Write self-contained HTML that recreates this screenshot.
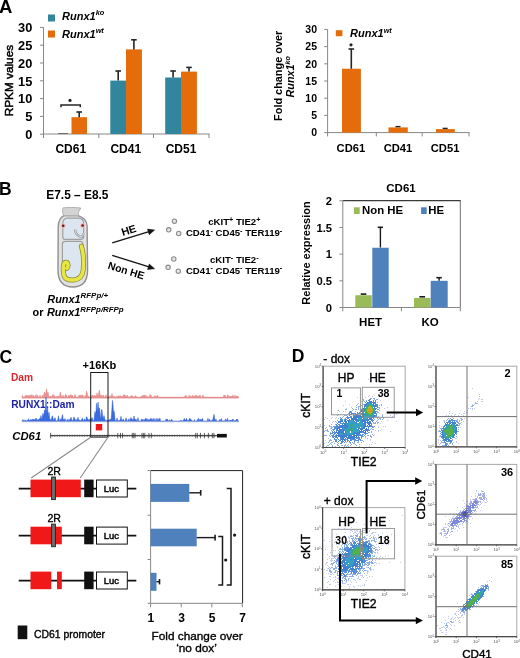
<!DOCTYPE html>
<html><head><meta charset="utf-8"><title>Figure</title>
<style>
html,body{margin:0;padding:0;background:#fff;}
body{width:520px;height:658px;overflow:hidden;}
svg{display:block;font-family:"Liberation Sans",sans-serif;will-change:transform;filter:blur(0.3px);}
</style></head><body>
<svg width="520" height="658" viewBox="0 0 520 658">
<defs><filter id="bl" x="-5%" y="-5%" width="110%" height="110%"><feGaussianBlur stdDeviation="0.45"/></filter></defs>
<rect width="520" height="658" fill="#fff"/>
<text x="-0.9" y="12.9" font-size="18.5" font-weight="bold" >A</text>
<rect x="48" y="14.5" width="7" height="7" fill="#31859c" />
<rect x="48" y="30.5" width="7" height="7" fill="#e46c0a" />
<text x="62" y="19.7" font-weight="bold" font-style="italic" ><tspan font-size="11" >Runx1</tspan><tspan font-size="7.4" dy="-4.5" >ko</tspan></text>
<text x="62" y="37.9" font-weight="bold" font-style="italic" ><tspan font-size="11" >Runx1</tspan><tspan font-size="7.4" dy="-4.5" >wt</tspan></text>
<line x1="43.5" y1="27.4" x2="43.5" y2="134.5" stroke="#888" stroke-width="1" />
<line x1="40" y1="134.2" x2="43.5" y2="134.2" stroke="#888" stroke-width="1" />
<text x="32.3" y="138.9" font-size="12.8" font-weight="bold" text-anchor="end" >0</text>
<line x1="40" y1="116.4" x2="43.5" y2="116.4" stroke="#888" stroke-width="1" />
<text x="32.3" y="121.1" font-size="12.8" font-weight="bold" text-anchor="end" >5</text>
<line x1="40" y1="98.6" x2="43.5" y2="98.6" stroke="#888" stroke-width="1" />
<text x="32.3" y="103.3" font-size="12.8" font-weight="bold" text-anchor="end" >10</text>
<line x1="40" y1="80.8" x2="43.5" y2="80.8" stroke="#888" stroke-width="1" />
<text x="32.3" y="85.5" font-size="12.8" font-weight="bold" text-anchor="end" >15</text>
<line x1="40" y1="63" x2="43.5" y2="63" stroke="#888" stroke-width="1" />
<text x="32.3" y="67.7" font-size="12.8" font-weight="bold" text-anchor="end" >20</text>
<line x1="40" y1="45.2" x2="43.5" y2="45.2" stroke="#888" stroke-width="1" />
<text x="32.3" y="49.9" font-size="12.8" font-weight="bold" text-anchor="end" >25</text>
<line x1="40" y1="27.4" x2="43.5" y2="27.4" stroke="#888" stroke-width="1" />
<text x="32.3" y="32.1" font-size="12.8" font-weight="bold" text-anchor="end" >30</text>
<line x1="43.5" y1="134" x2="209.5" y2="134" stroke="#888" stroke-width="1" />
<line x1="43.5" y1="134" x2="43.5" y2="138" stroke="#888" stroke-width="1" />
<line x1="98.8" y1="134" x2="98.8" y2="138" stroke="#888" stroke-width="1" />
<line x1="153.5" y1="134" x2="153.5" y2="138" stroke="#888" stroke-width="1" />
<line x1="209" y1="134" x2="209" y2="138" stroke="#888" stroke-width="1" />
<text x="12.6" y="80.6" font-size="11.8" stroke="#000" stroke-width="0.5" text-anchor="middle" transform="rotate(-90 12.6 80.6)" >RPKM values</text>
<line x1="58" y1="133.5" x2="68" y2="133.5" stroke="#555" stroke-width="0.8" />
<rect x="71.5" y="117.2" width="15.5" height="16.8" fill="#e46c0a" />
<line x1="79.2" y1="112" x2="79.2" y2="117.2" stroke="#262626" stroke-width="1.6" />
<line x1="76.4" y1="112" x2="82" y2="112" stroke="#262626" stroke-width="1.6" />
<rect x="110.3" y="80.6" width="15.7" height="53.4" fill="#31859c" />
<line x1="118.2" y1="71" x2="118.2" y2="80.6" stroke="#262626" stroke-width="1.6" />
<line x1="115.4" y1="71" x2="121" y2="71" stroke="#262626" stroke-width="1.6" />
<rect x="126" y="49.4" width="15.9" height="84.6" fill="#e46c0a" />
<line x1="133.9" y1="39.8" x2="133.9" y2="49.4" stroke="#262626" stroke-width="1.6" />
<line x1="131.1" y1="39.8" x2="136.7" y2="39.8" stroke="#262626" stroke-width="1.6" />
<rect x="165.2" y="77.5" width="15.8" height="56.5" fill="#31859c" />
<line x1="173.1" y1="71" x2="173.1" y2="77.5" stroke="#262626" stroke-width="1.6" />
<line x1="170.3" y1="71" x2="175.9" y2="71" stroke="#262626" stroke-width="1.6" />
<rect x="181" y="71.6" width="15.9" height="62.4" fill="#e46c0a" />
<line x1="189" y1="67.4" x2="189" y2="71.6" stroke="#262626" stroke-width="1.6" />
<line x1="186.2" y1="67.4" x2="191.8" y2="67.4" stroke="#262626" stroke-width="1.6" />
<path d="M61,107.2 V105 H80.3 V107.2" fill="none" stroke="#262626" stroke-width="1.5" />
<circle cx="70" cy="100.4" r="1.6" fill="#262626" />
<text x="70.8" y="152.8" font-size="12" font-weight="bold" text-anchor="middle" >CD61</text>
<text x="125.8" y="152.8" font-size="12" font-weight="bold" text-anchor="middle" >CD41</text>
<text x="181" y="152.8" font-size="12" font-weight="bold" text-anchor="middle" >CD51</text>
<line x1="327.6" y1="29.4" x2="327.6" y2="133" stroke="#888" stroke-width="1" />
<line x1="324.2" y1="132.6" x2="327.6" y2="132.6" stroke="#888" stroke-width="1" />
<text x="317" y="136.35" font-size="10.5" font-weight="bold" text-anchor="end" >0</text>
<line x1="324.2" y1="115.4" x2="327.6" y2="115.4" stroke="#888" stroke-width="1" />
<text x="317" y="119.15" font-size="10.5" font-weight="bold" text-anchor="end" >5</text>
<line x1="324.2" y1="98.2" x2="327.6" y2="98.2" stroke="#888" stroke-width="1" />
<text x="317" y="101.95" font-size="10.5" font-weight="bold" text-anchor="end" >10</text>
<line x1="324.2" y1="81" x2="327.6" y2="81" stroke="#888" stroke-width="1" />
<text x="317" y="84.75" font-size="10.5" font-weight="bold" text-anchor="end" >15</text>
<line x1="324.2" y1="63.8" x2="327.6" y2="63.8" stroke="#888" stroke-width="1" />
<text x="317" y="67.55" font-size="10.5" font-weight="bold" text-anchor="end" >20</text>
<line x1="324.2" y1="46.6" x2="327.6" y2="46.6" stroke="#888" stroke-width="1" />
<text x="317" y="50.35" font-size="10.5" font-weight="bold" text-anchor="end" >25</text>
<line x1="324.2" y1="29.4" x2="327.6" y2="29.4" stroke="#888" stroke-width="1" />
<text x="317" y="33.15" font-size="10.5" font-weight="bold" text-anchor="end" >30</text>
<line x1="327.3" y1="132.6" x2="469.5" y2="132.6" stroke="#888" stroke-width="1" />
<line x1="327.6" y1="132.6" x2="327.6" y2="136.4" stroke="#888" stroke-width="1" />
<line x1="376.3" y1="132.6" x2="376.3" y2="136.4" stroke="#888" stroke-width="1" />
<line x1="422.2" y1="132.6" x2="422.2" y2="136.4" stroke="#888" stroke-width="1" />
<line x1="469" y1="132.6" x2="469" y2="136.4" stroke="#888" stroke-width="1" />
<rect x="342" y="68.75" width="18.9" height="63.85" fill="#e46c0a" />
<line x1="351.3" y1="49" x2="351.3" y2="68.75" stroke="#262626" stroke-width="1.6" />
<line x1="348.5" y1="49" x2="354.1" y2="49" stroke="#262626" stroke-width="1.6" />
<rect x="388.5" y="127.4" width="19.3" height="5.2" fill="#e46c0a" />
<line x1="395.5" y1="126.6" x2="400.5" y2="126.6" stroke="#262626" stroke-width="1.4" />
<rect x="436" y="129.1" width="18.8" height="3.5" fill="#e46c0a" />
<line x1="442.7" y1="128.4" x2="447.7" y2="128.4" stroke="#262626" stroke-width="1.4" />
<circle cx="351" cy="44.8" r="1.6" fill="#262626" />
<text x="350.9" y="152" font-size="11.2" font-weight="bold" text-anchor="middle" >CD61</text>
<text x="398" y="152" font-size="11.2" font-weight="bold" text-anchor="middle" >CD41</text>
<text x="445.1" y="152" font-size="11.2" font-weight="bold" text-anchor="middle" >CD51</text>
<rect x="335.8" y="30.2" width="6.6" height="6" fill="#e46c0a" />
<text x="350" y="36.8" font-weight="bold" font-style="italic" ><tspan font-size="11" >Runx1</tspan><tspan font-size="7.2" dy="-4.3" >wt</tspan></text>
<text x="282.1" y="75.8" font-size="10.9" font-weight="bold" text-anchor="middle" transform="rotate(-90 282.1 75.8)" >Fold change over</text>
<text x="294.3" y="76.8" font-weight="bold" font-style="italic" text-anchor="middle" transform="rotate(-90 294.3 76.8)" ><tspan font-size="10.8" >Runx1</tspan><tspan font-size="7.2" dy="-4.3" >ko</tspan></text>
<text x="-1" y="194.6" font-size="17.5" font-weight="bold" >B</text>
<text x="77.4" y="198.8" font-size="11.9" font-weight="bold" text-anchor="middle" >E7.5 – E8.5</text>
<path d="M58.2,227 C58.3,221 60.5,217.2 64,215.6 L78,215.6 C83.5,217.2 86.8,220.5 87.1,226 L87.6,270 C87.6,281 83.5,287 72.8,287 C62,287 58,281 58,270 Z" fill="#e2e2e2" stroke="#909090" stroke-width="1.4" />
<path d="M63.6,215.8 C62.6,212.5 62,209.5 63,207.9 C67,207.3 74,207.2 80.8,208 L79,211.2 C78.2,212.8 78.3,214.5 78.8,215.8 Z" fill="#d3d3d3" stroke="#a3a3a3" stroke-width="0.8" />
<path d="M62.8,223.5 C62.8,220 64.8,218.1 68,218.1 L78.5,218.1 C81.8,218.1 83.6,220.5 83.6,223.5 L83.6,236.5 C83.6,238.5 82.6,239.3 80.8,239.3 L64.6,239.3 C63.2,239.3 62.8,238.3 62.8,236.5 Z" fill="#dce6f0" stroke="#a0a0a0" stroke-width="1.2" />
<path d="M62.4,244 C62.4,242 63.5,241.4 65.5,241.4 L80,241.4 C82,241.4 83,242.5 83,245 L83,270 C83,278 79,281.5 72.5,281.5 C66,281.5 62.4,278 62.4,270 Z" fill="#dce6f0" stroke="#a0a0a0" stroke-width="1.2" />
<path d="M75.6,229.6 C74.4,232.2 76.6,234.6 79.2,236.2 C81.6,237.4 83.6,236 83.2,233.2" fill="none" stroke="#9a9a9a" stroke-width="2.4" />
<path d="M75.6,229.6 C74.4,232.2 76.6,234.6 79.2,236.2 C81.6,237.4 83.6,236 83.2,233.2" fill="none" stroke="#e8eef4" stroke-width="0.9" />
<path d="M81.4,246.2 C83.2,252 83.9,262 83.2,270 C82.5,276.2 79.6,279.5 73.6,279.9 C68.2,280.3 65,279 64,275.5 C63.2,272 63.1,267 63.8,264 C64.6,261.6 67.4,261.9 67.9,264.2 C68.3,266 67.5,267.6 66.9,268.2" fill="none" stroke="#8a8a30" stroke-width="5" stroke-linecap="round"/>
<path d="M81.4,246.2 C83.2,252 83.9,262 83.2,270 C82.5,276.2 79.6,279.5 73.6,279.9 C68.2,280.3 65,279 64,275.5 C63.2,272 63.1,267 63.8,264 C64.6,261.6 67.4,261.9 67.9,264.2 C68.3,266 67.5,267.6 66.9,268.2" fill="none" stroke="#e8e644" stroke-width="3.5" stroke-linecap="round"/>
<circle cx="63.2" cy="225.8" r="2.6" fill="#f0b8b8" opacity="0.7"/>
<circle cx="63.2" cy="225.8" r="1.3" fill="#6e1414" />
<circle cx="82.6" cy="225.5" r="2.6" fill="#f0b8b8" opacity="0.7"/>
<circle cx="82.6" cy="225.5" r="1.3" fill="#6e1414" />
<line x1="112.2" y1="242.9" x2="149" y2="231.7" stroke="#111" stroke-width="1.3" />
<path d="M154.6,230 L149.2,234.7 L147.5,229.1 Z" fill="#111" stroke="#111" stroke-width="0.5" />
<line x1="112.2" y1="255.4" x2="149" y2="266.9" stroke="#111" stroke-width="1.3" />
<path d="M154.6,268.7 L147.5,269.5 L149.3,264 Z" fill="#111" stroke="#111" stroke-width="0.5" />
<text transform="translate(128.7,230.2) rotate(-17)" x="0" y="3.8664" font-size="10.8" text-anchor="middle" font-weight="bold">HE</text>
<text transform="translate(126.3,270.4) rotate(17)" x="0" y="3.7232" font-size="10.4" text-anchor="middle" font-weight="bold">Non HE</text>
<circle cx="174.4" cy="221.2" r="2.2" fill="#e6e6e6" stroke="#8c8c8c" stroke-width="1.1" />
<circle cx="168.7" cy="229.8" r="2.2" fill="#e6e6e6" stroke="#8c8c8c" stroke-width="1.1" />
<circle cx="178.7" cy="233.5" r="2.2" fill="#e6e6e6" stroke="#8c8c8c" stroke-width="1.1" />
<circle cx="173.8" cy="259" r="2.2" fill="#e6e6e6" stroke="#8c8c8c" stroke-width="1.1" />
<circle cx="168.1" cy="267.3" r="2.2" fill="#e6e6e6" stroke="#8c8c8c" stroke-width="1.1" />
<circle cx="178.3" cy="271.2" r="2.2" fill="#e6e6e6" stroke="#8c8c8c" stroke-width="1.1" />
<text x="234.3" y="225.4" font-weight="bold" text-anchor="middle" ><tspan font-size="9.6" >cKIT</tspan><tspan font-size="7.2" dy="-3.4" >+</tspan><tspan font-size="9.6" dy="3.4" > TIE2</tspan><tspan font-size="7.2" dy="-3.4" >+</tspan></text>
<text x="234.1" y="236" font-weight="bold" text-anchor="middle" ><tspan font-size="9.6" >CD41</tspan><tspan font-size="7.2" dy="-3.4" >-</tspan><tspan font-size="9.6" dy="3.4" > CD45</tspan><tspan font-size="7.2" dy="-3.4" >-</tspan><tspan font-size="9.6" dy="3.4" > TER119</tspan><tspan font-size="7.2" dy="-3.4" >-</tspan></text>
<text x="234.3" y="262.9" font-weight="bold" text-anchor="middle" ><tspan font-size="9.6" >cKIT</tspan><tspan font-size="7.2" dy="-3.4" >-</tspan><tspan font-size="9.6" dy="3.4" > TIE2</tspan><tspan font-size="7.2" dy="-3.4" >-</tspan></text>
<text x="234.1" y="273.5" font-weight="bold" text-anchor="middle" ><tspan font-size="9.6" >CD41</tspan><tspan font-size="7.2" dy="-3.4" >-</tspan><tspan font-size="9.6" dy="3.4" > CD45</tspan><tspan font-size="7.2" dy="-3.4" >-</tspan><tspan font-size="9.6" dy="3.4" > TER119</tspan><tspan font-size="7.2" dy="-3.4" >-</tspan></text>
<text x="47.3" y="303" font-weight="bold" font-style="italic" ><tspan font-size="10.9" >Runx1</tspan><tspan font-size="7.9" dy="-4.6" >RFPp/+</tspan></text>
<text x="32.5" y="316.3" font-size="10.9" font-weight="bold" >or</text>
<text x="47" y="316.3" font-weight="bold" font-style="italic" ><tspan font-size="10.9" >Runx1</tspan><tspan font-size="7.9" dy="-4.6" >RFPp/RFPp</tspan></text>
<text x="401" y="191.9" font-size="11.5" font-weight="bold" text-anchor="middle" >CD61</text>
<line x1="342.8" y1="200.6" x2="460.8" y2="200.6" stroke="#3a3a3a" stroke-width="1.1" />
<line x1="460.3" y1="200.6" x2="460.3" y2="307.5" stroke="#707070" stroke-width="1" />
<line x1="342.8" y1="200.6" x2="342.8" y2="307.9" stroke="#888" stroke-width="1" />
<line x1="342.8" y1="307.5" x2="460.3" y2="307.5" stroke="#888" stroke-width="1" />
<line x1="339.4" y1="307.5" x2="342.8" y2="307.5" stroke="#888" stroke-width="1" />
<text x="332.1" y="311.6" font-size="11.2" font-weight="bold" text-anchor="end" >0</text>
<line x1="339.4" y1="280.825" x2="342.8" y2="280.825" stroke="#888" stroke-width="1" />
<text x="332.1" y="284.925" font-size="11.2" font-weight="bold" text-anchor="end" >0.5</text>
<line x1="339.4" y1="254.15" x2="342.8" y2="254.15" stroke="#888" stroke-width="1" />
<text x="332.1" y="258.25" font-size="11.2" font-weight="bold" text-anchor="end" >1</text>
<line x1="339.4" y1="227.475" x2="342.8" y2="227.475" stroke="#888" stroke-width="1" />
<text x="332.1" y="231.575" font-size="11.2" font-weight="bold" text-anchor="end" >1.5</text>
<line x1="339.4" y1="200.8" x2="342.8" y2="200.8" stroke="#888" stroke-width="1" />
<text x="332.1" y="204.9" font-size="11.2" font-weight="bold" text-anchor="end" >2</text>
<line x1="342.8" y1="307.5" x2="342.8" y2="311.3" stroke="#888" stroke-width="1" />
<line x1="401.4" y1="307.5" x2="401.4" y2="311.3" stroke="#888" stroke-width="1" />
<line x1="460.3" y1="307.5" x2="460.3" y2="311.3" stroke="#888" stroke-width="1" />
<rect x="355.3" y="295.23" width="16.5" height="12.2705" fill="#9bbb59" />
<line x1="360.7" y1="294.1" x2="366.4" y2="294.1" stroke="#1a1a1a" stroke-width="1.6" />
<rect x="372.3" y="247.748" width="16.4" height="59.752" fill="#4f81bd" />
<line x1="380.4" y1="227.3" x2="380.4" y2="247.5" stroke="#1a1a1a" stroke-width="1.4" />
<line x1="377.7" y1="227.3" x2="383" y2="227.3" stroke="#1a1a1a" stroke-width="1.6" />
<rect x="414" y="297.897" width="16.5" height="9.603" fill="#9bbb59" />
<line x1="419.4" y1="296.8" x2="425.1" y2="296.8" stroke="#1a1a1a" stroke-width="1.6" />
<rect x="430.7" y="280.825" width="17" height="26.675" fill="#4f81bd" />
<line x1="439.1" y1="277.7" x2="439.1" y2="280.8" stroke="#1a1a1a" stroke-width="1.4" />
<line x1="436.4" y1="277.7" x2="441.8" y2="277.7" stroke="#1a1a1a" stroke-width="1.6" />
<text x="370.6" y="326.3" font-size="11.5" font-weight="bold" text-anchor="middle" >HET</text>
<text x="430.2" y="326.3" font-size="11.5" font-weight="bold" text-anchor="middle" >KO</text>
<rect x="353.9" y="207.3" width="5.8" height="6.7" fill="#9bbb59" />
<text x="362" y="214.4" font-size="11.4" font-weight="bold" >Non HE</text>
<rect x="421.1" y="207.3" width="5.6" height="6.7" fill="#4f81bd" />
<text x="428.3" y="214.4" font-size="11.4" font-weight="bold" >HE</text>
<text x="309.9" y="253" font-size="11" font-weight="bold" text-anchor="middle" transform="rotate(-90 309.9 253)" >Relative expression</text>
<text x="-0.5" y="362.5" font-size="17.5" font-weight="bold" >C</text>
<text x="99.4" y="368.7" font-size="11.1" font-weight="bold" text-anchor="middle" >+16Kb</text>
<text x="11" y="381.3" font-size="10.2" font-weight="bold" fill="#d42a30" >Dam</text>
<text x="11.2" y="408" font-size="10.2" font-weight="bold" fill="#1e24a8" >RUNX1::Dam</text>
<path d="M22,397.8 L22,395.8 L22.5,395.6 L23,397.2 L23.5,397.2 L24,397.2 L24.5,396.6 L25,397.2 L25.5,395.0 L26,395.5 L26.5,395.5 L27,397.2 L27.5,395.3 L28,397.2 L28.5,395.2 L29,397.2 L29.5,396.4 L30,394.9 L30.5,396.3 L31,395.1 L31.5,394.8 L32,397.2 L32.5,396.8 L33,394.7 L33.5,395.6 L34,395.9 L34.5,396.3 L35,397.2 L35.5,396.1 L36,394.4 L36.5,396.1 L37,397.2 L37.5,395.0 L38,397.2 L38.5,397.2 L39,397.2 L39.5,397.2 L40,395.0 L40.5,397.2 L41,397.0 L41.5,397.2 L42,397.2 L42.5,395.1 L43,396.8 L43.5,395.2 L44,394.2 L44.5,392.0 L45,393.2 L45.5,394.6 L46,392.7 L46.5,388.8 L47,391.4 L47.5,394.6 L48,392.3 L48.5,395.1 L49,397.2 L49.5,397.2 L50,396.1 L50.5,397.2 L51,396.4 L51.5,397.2 L52,395.8 L52.5,396.0 L53,394.2 L53.5,395.6 L54,397.2 L54.5,395.4 L55,397.2 L55.5,397.0 L56,397.2 L56.5,397.2 L57,396.0 L57.5,397.2 L58,396.3 L58.5,396.2 L59,397.2 L59.5,396.2 L60,393.8 L60.5,392.1 L61,395.0 L61.5,397.2 L62,396.3 L62.5,397.2 L63,395.0 L63.5,396.3 L64,397.2 L64.5,397.2 L65,396.2 L65.5,394.0 L66,396.2 L66.5,395.1 L67,397.2 L67.5,397.2 L68,396.9 L68.5,395.1 L69,396.3 L69.5,396.1 L70,395.0 L70.5,394.7 L71,397.2 L71.5,394.7 L72,397.2 L72.5,395.3 L73,397.2 L73.5,397.2 L74,396.4 L74.5,396.3 L75,394.5 L75.5,396.3 L76,397.2 L76.5,397.2 L77,397.2 L77.5,397.2 L78,397.2 L78.5,397.2 L79,395.3 L79.5,396.4 L80,394.8 L80.5,396.5 L81,395.0 L81.5,395.2 L82,396.7 L82.5,395.1 L83,395.1 L83.5,397.2 L84,397.2 L84.5,397.2 L85,395.6 L85.5,397.2 L86,394.3 L86.5,391.0 L87,392.7 L87.5,394.6 L88,397.2 L88.5,396.4 L89,396.3 L89.5,397.2 L90,397.2 L90.5,396.7 L91,396.9 L91.5,396.2 L92,395.0 L92.5,395.6 L93,395.1 L93.5,397.2 L94,396.2 L94.5,395.4 L95,395.4 L95.5,396.6 L96,395.4 L96.5,395.7 L97,392.9 L97.5,394.9 L98,396.0 L98.5,395.1 L99,391.9 L99.5,390.0 L100,394.0 L100.5,396.8 L101,395.2 L101.5,397.0 L102,394.9 L102.5,397.1 L103,397.2 L103.5,395.0 L104,397.2 L104.5,397.2 L105,397.2 L105.5,396.1 L106,394.7 L106.5,396.4 L107,397.2 L107.5,397.2 L108,396.4 L108.5,397.2 L109,397.2 L109.5,396.7 L110,395.6 L110.5,397.2 L111,396.2 L111.5,395.6 L112,393.5 L112.5,395.5 L113,397.0 L113.5,397.2 L114,395.9 L114.5,397.2 L115,397.2 L115.5,397.0 L116,397.2 L116.5,397.2 L117,396.0 L117.5,397.2 L118,396.5 L118.5,395.7 L119,396.6 L119.5,396.6 L120,395.4 L120.5,396.7 L121,396.6 L121.5,396.0 L122,396.8 L122.5,396.4 L123,397.2 L123.5,394.6 L124,395.6 L124.5,395.0 L125,395.2 L125.5,396.4 L126,395.3 L126.5,397.2 L127,396.6 L127.5,395.3 L128,397.2 L128.5,397.2 L129,397.2 L129.5,396.7 L130,396.7 L130.5,396.6 L131,395.8 L131.5,396.8 L132,395.3 L132.5,397.0 L133,397.2 L133.5,396.3 L134,397.2 L134.5,397.2 L135,396.3 L135.5,395.9 L136,395.7 L136.5,397.2 L137,397.2 L137.5,397.2 L138,397.2 L138.5,397.2 L139,397.2 L139.5,397.2 L140,397.2 L140.5,397.2 L141,397.2 L141.5,395.8 L142,396.5 L142.5,397.2 L143,394.9 L143.5,397.2 L144,394.8 L144.5,395.2 L145,397.2 L145.5,395.4 L146,395.4 L146.5,396.3 L147,397.2 L147.5,396.9 L148,396.3 L148.5,397.2 L149,397.2 L149.5,396.4 L150,394.6 L150.5,394.9 L151,394.8 L151.5,396.3 L152,397.2 L152.5,397.2 L153,397.2 L153.5,397.2 L154,396.4 L154.5,396.6 L155,395.6 L155.5,396.8 L156,396.2 L156.5,397.2 L157,395.9 L157.5,395.2 L158,396.3 L158.5,397.2 L159,397.2 L159.5,397.2 L160,397.2 L160.5,397.2 L161,397.2 L161.5,397.2 L162,397.2 L162.5,397.2 L163,397.2 L163.5,397.2 L164,397.2 L164.5,397.2 L165,397.2 L165.5,397.2 L166,397.2 L166.5,397.2 L167,397.2 L167.5,397.2 L168,397.2 L168.5,397.2 L169,397.2 L169.5,397.2 L170,397.2 L170.5,397.2 L171,397.2 L171.5,397.2 L172,397.2 L172.5,397.2 L173,397.2 L173.5,397.2 L174,397.2 L174.5,397.2 L175,397.2 L175.5,397.2 L176,397.2 L176.5,397.2 L177,397.2 L177.5,397.2 L178,397.2 L178.5,397.2 L179,397.2 L179.5,397.2 L180,397.2 L180.5,397.2 L181,397.2 L181.5,397.2 L182,397.2 L182.5,397.2 L183,397.2 L183.5,397.2 L184,397.2 L184.5,397.2 L185,395.8 L185.5,397.2 L186,395.0 L186.5,396.5 L187,396.9 L187.5,397.2 L188,397.2 L188.5,396.7 L189,395.3 L189.5,396.4 L190,395.4 L190.5,396.5 L191,397.2 L191.5,396.5 L192,397.2 L192.5,395.1 L193,397.2 L193.5,396.7 L194,395.6 L194.5,396.6 L195,397.2 L195.5,395.0 L196,395.6 L196.5,397.2 L197,395.2 L197.5,397.2 L198,395.8 L198.5,396.7 L199,397.1 L199.5,395.5 L200,394.8 L200.5,396.6 L201,397.2 L201.5,397.2 L202,396.3 L202.5,397.0 L203,394.8 L203.5,397.2 L204,397.2 L204.5,397.2 L205,397.2 L205.5,397.2 L206,397.2 L206.5,397.2 L207,397.2 L207.5,397.2 L208,397.2 L208.5,397.2 L209,397.2 L209.5,397.2 L210,397.2 L210.5,397.2 L211,397.2 L211.5,397.2 L212,397.2 L212.5,397.2 L213,397.2 L213.5,397.2 L214,397.2 L214.5,397.2 L215,397.2 L215.5,397.2 L216,397.2 L216.5,397.2 L217,397.2 L217.5,397.2 L218,397.2 L218.5,397.2 L219,397.2 L219.5,397.2 L220,397.2 L220.5,397.2 L221,397.2 L221.5,397.2 L222,397.2 L222.5,397.2 L223,397.2 L223.5,397.2 L224,394.9 L224.5,397.2 L225,395.0 L225.5,397.2 L226,397.2 L226.5,397.2 L227,397.2 L227.5,395.1 L228,394.8 L228.5,396.3 L229,397.1 L229.5,396.7 L230,395.9 L230.5,397.2 L231,396.1 L231.5,397.2 L232,396.0 L232.5,396.5 L233,394.9 L233.5,396.2 L234,397.2 L234.5,397.2 L235,395.2 L235.5,396.0 L236,396.7 L236.5,396.2 L237,395.8 L237.5,396.9 L238,396.1 L238.5,397.2 L238.5,397.8 Z" fill="#ec9494" stroke="#e27c7c" stroke-width="0.5" />
<line x1="22" y1="397.8" x2="238.5" y2="397.8" stroke="#e28080" stroke-width="0.8" />
<path d="M22,421.6 L22,420.6 L22.5,421.0 L23,419.5 L23.5,420.8 L24,420.9 L24.5,420.8 L25,419.8 L25.5,421.0 L26,420.4 L26.5,421.0 L27,421.0 L27.5,419.9 L28,421.0 L28.5,418.6 L29,420.6 L29.5,420.1 L30,421.0 L30.5,419.4 L31,421.0 L31.5,419.5 L32,420.8 L32.5,419.1 L33,420.1 L33.5,419.7 L34,418.8 L34.5,421.0 L35,419.4 L35.5,418.5 L36,421.0 L36.5,418.3 L37,419.8 L37.5,421.0 L38,419.6 L38.5,419.1 L39,421.0 L39.5,418.5 L40,419.1 L40.5,417.7 L41,415.5 L41.5,418.5 L42,419.1 L42.5,416.0 L43,413.3 L43.5,416.3 L44,414.5 L44.5,410.0 L45,413.1 L45.5,407.4 L46,396.9 L46.5,408.1 L47,414.2 L47.5,406.4 L48,412.5 L48.5,417.8 L49,412.2 L49.5,416.9 L50,419.9 L50.5,419.2 L51,420.8 L51.5,419.1 L52,416.3 L52.5,415.9 L53,418.2 L53.5,420.3 L54,420.0 L54.5,418.6 L55,417.7 L55.5,419.6 L56,421.0 L56.5,420.9 L57,421.0 L57.5,420.6 L58,419.0 L58.5,415.8 L59,419.2 L59.5,420.5 L60,421.0 L60.5,418.8 L61,420.4 L61.5,419.6 L62,416.5 L62.5,414.7 L63,418.2 L63.5,420.9 L64,419.1 L64.5,421.0 L65,418.4 L65.5,421.0 L66,421.0 L66.5,420.4 L67,420.4 L67.5,419.3 L68,421.0 L68.5,421.0 L69,419.2 L69.5,421.0 L70,419.2 L70.5,419.2 L71,417.3 L71.5,418.8 L72,421.0 L72.5,421.0 L73,419.9 L73.5,418.8 L74,416.9 L74.5,418.7 L75,418.7 L75.5,421.0 L76,421.0 L76.5,419.5 L77,421.0 L77.5,419.3 L78,417.3 L78.5,419.2 L79,420.3 L79.5,420.3 L80,420.3 L80.5,420.6 L81,421.0 L81.5,419.7 L82,418.5 L82.5,418.4 L83,419.5 L83.5,420.9 L84,420.5 L84.5,418.8 L85,419.7 L85.5,421.0 L86,418.9 L86.5,416.7 L87,417.0 L87.5,419.4 L88,418.9 L88.5,421.0 L89,419.3 L89.5,419.6 L90,421.0 L90.5,419.5 L91,418.4 L91.5,419.2 L92,417.5 L92.5,418.4 L93,420.7 L93.5,420.8 L94,419.9 L94.5,415.3 L95,411.5 L95.5,415.2 L96,411.9 L96.5,403.4 L97,411.9 L97.5,408.5 L98,402.0 L98.5,406.4 L99,411.2 L99.5,407.9 L100,413.0 L100.5,418.7 L101,416.7 L101.5,409.5 L102,410.0 L102.5,415.2 L103,418.4 L103.5,417.8 L104,415.5 L104.5,418.1 L105,419.5 L105.5,421.0 L106,420.6 L106.5,420.3 L107,420.5 L107.5,420.4 L108,420.1 L108.5,421.0 L109,419.6 L109.5,420.0 L110,420.3 L110.5,418.9 L111,420.5 L111.5,415.1 L112,407.3 L112.5,400.4 L113,405.0 L113.5,413.9 L114,410.9 L114.5,414.0 L115,419.8 L115.5,421.0 L116,421.0 L116.5,420.0 L117,418.1 L117.5,419.8 L118,421.0 L118.5,421.0 L119,420.3 L119.5,421.0 L120,420.0 L120.5,419.0 L121,416.3 L121.5,419.3 L122,420.9 L122.5,420.1 L123,419.4 L123.5,418.9 L124,421.0 L124.5,421.0 L125,421.0 L125.5,419.6 L126,418.0 L126.5,418.7 L127,421.0 L127.5,421.0 L128,421.0 L128.5,419.5 L129,418.7 L129.5,421.0 L130,421.0 L130.5,418.5 L131,417.6 L131.5,419.5 L132,418.7 L132.5,419.2 L133,421.0 L133.5,419.0 L134,416.0 L134.5,418.9 L135,418.9 L135.5,420.8 L136,419.0 L136.5,421.0 L137,421.0 L137.5,420.0 L138,417.6 L138.5,419.9 L139,421.0 L139.5,421.0 L140,421.0 L140.5,421.0 L141,420.6 L141.5,418.9 L142,419.4 L142.5,420.8 L143,419.1 L143.5,421.0 L144,421.0 L144.5,419.6 L145,419.7 L145.5,418.5 L146,418.3 L146.5,420.5 L147,418.6 L147.5,420.2 L148,421.0 L148.5,419.4 L149,419.5 L149.5,421.0 L150,418.7 L150.5,418.5 L151,421.0 L151.5,418.5 L152,420.9 L152.5,419.6 L153,418.7 L153.5,418.6 L154,421.0 L154.5,421.0 L155,418.4 L155.5,421.0 L156,421.0 L156.5,420.0 L157,418.2 L157.5,420.0 L158,420.2 L158.5,420.2 L159,418.4 L159.5,419.6 L160,418.3 L160.5,421.0 L161,421.0 L161.5,421.0 L162,421.0 L162.5,421.0 L163,421.0 L163.5,421.0 L164,421.0 L164.5,421.0 L165,421.0 L165.5,420.5 L166,419.1 L166.5,419.0 L167,421.0 L167.5,418.9 L168,421.0 L168.5,420.9 L169,421.0 L169.5,419.7 L170,420.2 L170.5,421.0 L171,421.0 L171.5,419.2 L172,419.4 L172.5,421.0 L173,421.0 L173.5,421.0 L174,421.0 L174.5,421.0 L175,421.0 L175.5,421.0 L176,421.0 L176.5,421.0 L177,421.0 L177.5,421.0 L178,421.0 L178.5,421.0 L179,421.0 L179.5,421.0 L180,420.5 L180.5,420.4 L181,421.0 L181.5,420.4 L182,421.0 L182.5,421.0 L183,420.6 L183.5,420.3 L184,419.2 L184.5,418.5 L185,419.8 L185.5,419.9 L186,420.8 L186.5,418.3 L187,419.6 L187.5,421.0 L188,421.0 L188.5,420.2 L189,419.9 L189.5,418.3 L190,419.0 L190.5,419.0 L191,419.4 L191.5,419.9 L192,421.0 L192.5,421.0 L193,421.0 L193.5,421.0 L194,420.7 L194.5,419.5 L195,421.0 L195.5,421.0 L196,421.0 L196.5,421.0 L197,421.0 L197.5,419.5 L198,418.8 L198.5,418.4 L199,421.0 L199.5,420.4 L200,418.8 L200.5,420.3 L201,419.9 L201.5,419.3 L202,420.2 L202.5,418.3 L203,421.0 L203.5,421.0 L204,421.0 L204.5,421.0 L205,421.0 L205.5,421.0 L206,421.0 L206.5,421.0 L207,421.0 L207.5,420.3 L208,418.3 L208.5,421.0 L209,420.9 L209.5,419.1 L210,420.3 L210.5,421.0 L211,421.0 L211.5,420.9 L212,419.8 L212.5,421.0 L213,418.8 L213.5,416.4 L214,414.3 L214.5,417.3 L215,420.3 L215.5,420.4 L216,419.1 L216.5,421.0 L217,421.0 L217.5,421.0 L218,421.0 L218.5,421.0 L219,421.0 L219.5,420.1 L220,419.2 L220.5,420.4 L221,420.8 L221.5,418.5 L222,421.0 L222.5,421.0 L223,421.0 L223.5,421.0 L224,420.5 L224.5,421.0 L225,421.0 L225.5,419.1 L226,419.2 L226.5,420.2 L227,421.0 L227.5,418.3 L228,420.0 L228.5,421.0 L229,421.0 L229.5,420.9 L230,420.0 L230.5,421.0 L231,420.0 L231.5,421.0 L232,419.8 L232.5,420.0 L233,418.9 L233.5,420.2 L234,421.0 L234.5,421.0 L235,420.2 L235.5,421.0 L236,421.0 L236.5,419.0 L237,420.2 L237.5,418.9 L238,421.0 L238.5,421.0 L238.5,421.6 Z" fill="#3a6ae0" stroke="#2a5ad8" stroke-width="0.5" />
<line x1="22" y1="421.6" x2="238.5" y2="421.6" stroke="#9fb0d8" stroke-width="0.8" />
<rect x="90.7" y="372.5" width="17.3" height="64.6" fill="none" stroke="#1a1a1a" stroke-width="1" />
<rect x="95.8" y="424" width="6.4" height="6.4" fill="#f01818" />
<text x="12.3" y="440" font-size="11.3" font-weight="bold" font-style="italic" >CD61</text>
<line x1="50.3" y1="435.7" x2="217" y2="435.7" stroke="#111" stroke-width="0.9" />
<path d="M52.0,434.6 L52.9,435.7 L52.0,436.8 M54.5,434.6 L55.4,435.7 L54.5,436.8 M57.0,434.6 L57.9,435.7 L57.0,436.8 M59.5,434.6 L60.4,435.7 L59.5,436.8 M62.0,434.6 L62.9,435.7 L62.0,436.8 M64.5,434.6 L65.4,435.7 L64.5,436.8 M67.0,434.6 L67.9,435.7 L67.0,436.8 M69.5,434.6 L70.4,435.7 L69.5,436.8 M72.0,434.6 L72.9,435.7 L72.0,436.8 M74.5,434.6 L75.4,435.7 L74.5,436.8 M77.0,434.6 L77.9,435.7 L77.0,436.8 M79.5,434.6 L80.4,435.7 L79.5,436.8 M82.0,434.6 L82.9,435.7 L82.0,436.8 M84.5,434.6 L85.4,435.7 L84.5,436.8 M87.0,434.6 L87.9,435.7 L87.0,436.8 M89.5,434.6 L90.4,435.7 L89.5,436.8 M92.0,434.6 L92.9,435.7 L92.0,436.8 M94.5,434.6 L95.4,435.7 L94.5,436.8 M97.0,434.6 L97.9,435.7 L97.0,436.8 M99.5,434.6 L100.4,435.7 L99.5,436.8 M102.0,434.6 L102.9,435.7 L102.0,436.8 M104.5,434.6 L105.4,435.7 L104.5,436.8 M107.0,434.6 L107.9,435.7 L107.0,436.8 M109.5,434.6 L110.4,435.7 L109.5,436.8 M112.0,434.6 L112.9,435.7 L112.0,436.8 M114.5,434.6 L115.4,435.7 L114.5,436.8 M117.0,434.6 L117.9,435.7 L117.0,436.8 M119.5,434.6 L120.4,435.7 L119.5,436.8 M122.0,434.6 L122.9,435.7 L122.0,436.8 M124.5,434.6 L125.4,435.7 L124.5,436.8 M127.0,434.6 L127.9,435.7 L127.0,436.8 M129.5,434.6 L130.4,435.7 L129.5,436.8 M132.0,434.6 L132.9,435.7 L132.0,436.8 M134.5,434.6 L135.4,435.7 L134.5,436.8 M137.0,434.6 L137.9,435.7 L137.0,436.8 M139.5,434.6 L140.4,435.7 L139.5,436.8 M142.0,434.6 L142.9,435.7 L142.0,436.8 M144.5,434.6 L145.4,435.7 L144.5,436.8 M147.0,434.6 L147.9,435.7 L147.0,436.8 M149.5,434.6 L150.4,435.7 L149.5,436.8 M152.0,434.6 L152.9,435.7 L152.0,436.8 M154.5,434.6 L155.4,435.7 L154.5,436.8 M157.0,434.6 L157.9,435.7 L157.0,436.8 M159.5,434.6 L160.4,435.7 L159.5,436.8 M162.0,434.6 L162.9,435.7 L162.0,436.8 M164.5,434.6 L165.4,435.7 L164.5,436.8 M167.0,434.6 L167.9,435.7 L167.0,436.8 M169.5,434.6 L170.4,435.7 L169.5,436.8 M172.0,434.6 L172.9,435.7 L172.0,436.8 M174.5,434.6 L175.4,435.7 L174.5,436.8 M177.0,434.6 L177.9,435.7 L177.0,436.8 M179.5,434.6 L180.4,435.7 L179.5,436.8 M182.0,434.6 L182.9,435.7 L182.0,436.8 M184.5,434.6 L185.4,435.7 L184.5,436.8 M187.0,434.6 L187.9,435.7 L187.0,436.8 M189.5,434.6 L190.4,435.7 L189.5,436.8 M192.0,434.6 L192.9,435.7 L192.0,436.8 M194.5,434.6 L195.4,435.7 L194.5,436.8 M197.0,434.6 L197.9,435.7 L197.0,436.8 M199.5,434.6 L200.4,435.7 L199.5,436.8 M202.0,434.6 L202.9,435.7 L202.0,436.8 M204.5,434.6 L205.4,435.7 L204.5,436.8 M207.0,434.6 L207.9,435.7 L207.0,436.8 M209.5,434.6 L210.4,435.7 L209.5,436.8 M212.0,434.6 L212.9,435.7 L212.0,436.8 M214.5,434.6 L215.4,435.7 L214.5,436.8 " fill="none" stroke="#333" stroke-width="0.55" />
<line x1="50.6" y1="432.9" x2="50.6" y2="438.3" stroke="#222" stroke-width="0.7" />
<line x1="117.8" y1="432.9" x2="117.8" y2="438.3" stroke="#222" stroke-width="0.7" />
<line x1="120.5" y1="432.9" x2="120.5" y2="438.3" stroke="#222" stroke-width="0.7" />
<line x1="122.6" y1="432.9" x2="122.6" y2="438.3" stroke="#222" stroke-width="0.7" />
<line x1="132.3" y1="432.9" x2="132.3" y2="438.3" stroke="#222" stroke-width="0.7" />
<line x1="133.7" y1="432.9" x2="133.7" y2="438.3" stroke="#222" stroke-width="0.7" />
<line x1="135.1" y1="432.9" x2="135.1" y2="438.3" stroke="#222" stroke-width="0.7" />
<line x1="142" y1="432.9" x2="142" y2="438.3" stroke="#222" stroke-width="0.7" />
<line x1="143.4" y1="432.9" x2="143.4" y2="438.3" stroke="#222" stroke-width="0.7" />
<line x1="144.8" y1="432.9" x2="144.8" y2="438.3" stroke="#222" stroke-width="0.7" />
<line x1="148.9" y1="432.9" x2="148.9" y2="438.3" stroke="#222" stroke-width="0.7" />
<line x1="151.3" y1="432.9" x2="151.3" y2="438.3" stroke="#222" stroke-width="0.7" />
<line x1="195.7" y1="432.9" x2="195.7" y2="438.3" stroke="#222" stroke-width="0.7" />
<line x1="197.3" y1="432.9" x2="197.3" y2="438.3" stroke="#222" stroke-width="0.7" />
<line x1="200.5" y1="432.9" x2="200.5" y2="438.3" stroke="#222" stroke-width="0.7" />
<line x1="204.4" y1="432.9" x2="204.4" y2="438.3" stroke="#222" stroke-width="0.7" />
<line x1="208.4" y1="432.9" x2="208.4" y2="438.3" stroke="#222" stroke-width="0.7" />
<line x1="212.3" y1="432.9" x2="212.3" y2="438.3" stroke="#222" stroke-width="0.7" />
<line x1="213.9" y1="432.9" x2="213.9" y2="438.3" stroke="#222" stroke-width="0.7" />
<rect x="217" y="433.9" width="9.8" height="3.6" fill="#111" />
<line x1="90.7" y1="437.2" x2="31.2" y2="478" stroke="#8a8a8a" stroke-width="1.1" />
<line x1="108" y1="437.2" x2="80.2" y2="478" stroke="#8a8a8a" stroke-width="1.1" />
<line x1="18.7" y1="488.6" x2="136.3" y2="488.6" stroke="#111" stroke-width="1.8" />
<rect x="30.5" y="479.6" width="50.3" height="17.6" fill="#f01818" />
<rect x="84.2" y="479.6" width="9.4" height="17.6" fill="#111" />
<rect x="96.5" y="480" width="30.8" height="17" fill="#fff" stroke="#111" stroke-width="1" />
<text x="111.4" y="492" font-size="9.4" stroke="#000" stroke-width="0.45" text-anchor="middle" >Luc</text>
<rect x="51.6" y="477" width="3.8" height="22.6" fill="#6d6d6d" stroke="#222" stroke-width="0.9" />
<text x="54.2" y="475" font-size="10.6" stroke="#000" stroke-width="0.35" text-anchor="middle" >2R</text>
<line x1="18.7" y1="535.7" x2="136.3" y2="535.7" stroke="#111" stroke-width="1.8" />
<rect x="30.5" y="526.7" width="31.3" height="17.6" fill="#f01818" />
<rect x="84.2" y="526.7" width="9.4" height="17.6" fill="#111" />
<rect x="96.5" y="527.1" width="30.8" height="17" fill="#fff" stroke="#111" stroke-width="1" />
<text x="111.4" y="539.1" font-size="9.4" stroke="#000" stroke-width="0.45" text-anchor="middle" >Luc</text>
<rect x="51.6" y="524.1" width="3.8" height="22.6" fill="#6d6d6d" stroke="#222" stroke-width="0.9" />
<text x="54.2" y="522.1" font-size="10.6" stroke="#000" stroke-width="0.35" text-anchor="middle" >2R</text>
<line x1="18.7" y1="580.6" x2="136.3" y2="580.6" stroke="#111" stroke-width="1.8" />
<rect x="30.5" y="571.6" width="20.8" height="17.6" fill="#f01818" />
<rect x="57" y="571.6" width="4.8" height="17.6" fill="#f01818" />
<rect x="84.2" y="571.6" width="9.4" height="17.6" fill="#111" />
<rect x="96.5" y="572" width="30.8" height="17" fill="#fff" stroke="#111" stroke-width="1" />
<text x="111.4" y="584" font-size="9.4" stroke="#000" stroke-width="0.45" text-anchor="middle" >Luc</text>
<rect x="17.7" y="625.5" width="9.6" height="13.7" fill="#111" />
<text x="34" y="637.8" font-size="10.4" stroke="#000" stroke-width="0.35" >CD61 promoter</text>
<line x1="150.6" y1="470.6" x2="242.6" y2="470.6" stroke="#222" stroke-width="1" />
<line x1="242.6" y1="470.6" x2="242.6" y2="603.3" stroke="#222" stroke-width="1" />
<line x1="150.6" y1="470.6" x2="150.6" y2="603.3" stroke="#888" stroke-width="1" />
<line x1="150.6" y1="603.3" x2="242.6" y2="603.3" stroke="#888" stroke-width="1" />
<line x1="147.6" y1="470.6" x2="150.6" y2="470.6" stroke="#888" stroke-width="1" />
<line x1="147.6" y1="515.2" x2="150.6" y2="515.2" stroke="#888" stroke-width="1" />
<line x1="147.6" y1="559.5" x2="150.6" y2="559.5" stroke="#888" stroke-width="1" />
<line x1="147.6" y1="603.3" x2="150.6" y2="603.3" stroke="#888" stroke-width="1" />
<line x1="150.6" y1="603.3" x2="150.6" y2="607.3" stroke="#888" stroke-width="1" />
<text x="150.9" y="622.2" font-size="12" font-weight="bold" text-anchor="middle" >1</text>
<line x1="181.2" y1="603.3" x2="181.2" y2="607.3" stroke="#888" stroke-width="1" />
<text x="181.5" y="622.2" font-size="12" font-weight="bold" text-anchor="middle" >3</text>
<line x1="211.8" y1="603.3" x2="211.8" y2="607.3" stroke="#888" stroke-width="1" />
<text x="212.1" y="622.2" font-size="12" font-weight="bold" text-anchor="middle" >5</text>
<line x1="242.3" y1="603.3" x2="242.3" y2="607.3" stroke="#888" stroke-width="1" />
<text x="242.6" y="622.2" font-size="12" font-weight="bold" text-anchor="middle" >7</text>
<rect x="150.6" y="483.9" width="38.7" height="18" fill="#4f81bd" />
<rect x="150.6" y="528.7" width="46.1" height="17.6" fill="#4f81bd" />
<rect x="150.6" y="572.8" width="5.9" height="18" fill="#4f81bd" />
<line x1="189.3" y1="492.8" x2="200.7" y2="492.8" stroke="#1a1a1a" stroke-width="1.4" />
<line x1="200.7" y1="490" x2="200.7" y2="495.6" stroke="#1a1a1a" stroke-width="1.6" />
<line x1="196.7" y1="537.6" x2="215.1" y2="537.6" stroke="#1a1a1a" stroke-width="1.4" />
<line x1="215.1" y1="534.8" x2="215.1" y2="540.4" stroke="#1a1a1a" stroke-width="1.6" />
<line x1="156.5" y1="581.7" x2="159.5" y2="581.7" stroke="#1a1a1a" stroke-width="1.4" />
<line x1="159.5" y1="579" x2="159.5" y2="584.4" stroke="#1a1a1a" stroke-width="1.6" />
<path d="M218.3,536.6 H222.5 V584.9 H218.3" fill="none" stroke="#1a1a1a" stroke-width="1.5" />
<path d="M226.7,488.6 H231 V584.9 H226.7" fill="none" stroke="#1a1a1a" stroke-width="1.5" />
<circle cx="234.6" cy="535.1" r="1.6" fill="#1a1a1a" />
<circle cx="225.7" cy="560" r="1.6" fill="#1a1a1a" />
<text x="197.1" y="639.8" font-size="11.8" stroke="#000" stroke-width="0.35" text-anchor="middle" >Fold change over</text>
<text x="196.5" y="651.6" font-size="11.8" stroke="#000" stroke-width="0.35" text-anchor="middle" >‘no dox’</text>
<text x="291.8" y="362.3" font-size="17.5" font-weight="bold" >D</text>
<g filter="url(#bl)"><path fill="#c0caf0" d="M368 379h1v1h-1zM380 382h1v1h-1zM386 392h1v1h-1zM360 394h1v1h-1zM379 394h1v1h-1zM369 395h1v1h-1zM368 396h1v1h-1zM372 396h1v1h-1zM357 397h1v1h-1zM365 397h1v1h-1zM380 400h1v1h-1zM345 401h1v1h-1zM361 401h1v1h-1zM358 403h1v1h-1zM349 404h1v1h-1zM343 405h1v1h-1zM351 407h1v1h-1zM387 407h1v1h-1zM346 408h1v1h-1zM384 408h1v1h-1zM337 410h1v1h-1zM339 411h1v1h-1zM343 411h1v1h-1zM345 411h1v1h-1zM337 412h1v1h-1zM379 413h1v1h-1zM333 414h1v1h-1zM336 414h1v1h-1zM340 414h1v1h-1zM382 414h1v1h-1zM396 414h1v1h-1zM390 415h1v1h-1zM392 416h1v1h-1zM325 417h1v1h-1zM332 417h1v1h-1zM336 417h1v1h-1zM394 417h1v1h-1zM327 418h1v1h-1zM331 418h1v1h-1zM335 418h1v1h-1zM324 419h1v1h-1zM329 420h1v1h-1zM387 420h1v1h-1zM333 421h1v1h-1zM381 421h1v1h-1zM396 421h1v1h-1zM332 422h1v1h-1zM380 423h1v1h-1zM324 425h1v1h-1zM378 426h1v1h-1zM383 426h1v1h-1zM385 426h1v1h-1zM326 427h1v1h-1zM378 427h1v1h-1zM381 429h1v1h-1zM375 430h1v1h-1zM378 430h1v1h-1zM380 430h1v1h-1zM378 431h1v1h-1zM390 431h1v1h-1zM374 434h1v1h-1zM328 438h1v1h-1zM370 439h1v1h-1zM325 440h1v1h-1zM370 440h1v1h-1zM326 442h1v1h-1zM372 442h1v1h-1zM324 443h1v1h-1zM375 443h1v1h-1zM369 444h1v1h-1zM371 444h1v1h-1zM369 446h1v1h-1z"/>
<path fill="#8eb0e6" d="M370 398h2v1h-2zM373 398h2v1h-2zM363 399h1v1h-1zM374 399h1v1h-1zM376 399h2v1h-2zM363 400h1v1h-1zM366 400h1v1h-1zM364 401h1v1h-1zM377 402h1v1h-1zM357 404h1v1h-1zM363 404h1v1h-1zM381 404h1v1h-1zM356 405h1v1h-1zM361 405h1v1h-1zM379 405h1v1h-1zM381 405h1v1h-1zM358 406h3v1h-3zM362 406h1v1h-1zM356 407h1v1h-1zM358 407h1v1h-1zM378 407h2v1h-2zM352 408h1v1h-1zM358 408h1v1h-1zM360 408h1v1h-1zM379 408h1v1h-1zM345 409h2v1h-2zM353 409h1v1h-1zM355 409h2v1h-2zM358 409h1v1h-1zM378 409h1v1h-1zM338 410h1v1h-1zM352 410h1v1h-1zM379 410h1v1h-1zM349 411h1v1h-1zM351 411h1v1h-1zM355 411h1v1h-1zM377 411h1v1h-1zM377 412h2v1h-2zM348 413h1v1h-1zM338 414h1v1h-1zM347 414h1v1h-1zM337 415h1v1h-1zM344 415h3v1h-3zM382 415h1v1h-1zM343 416h1v1h-1zM378 416h1v1h-1zM382 416h1v1h-1zM340 417h1v1h-1zM342 417h1v1h-1zM377 417h1v1h-1zM383 417h1v1h-1zM338 418h1v1h-1zM340 418h1v1h-1zM377 418h1v1h-1zM379 418h2v1h-2zM383 418h1v1h-1zM374 419h1v1h-1zM378 419h1v1h-1zM380 419h1v1h-1zM382 419h1v1h-1zM337 420h1v1h-1zM377 420h1v1h-1zM335 421h1v1h-1zM376 421h1v1h-1zM336 422h1v1h-1zM373 422h1v1h-1zM375 422h1v1h-1zM377 422h2v1h-2zM373 423h3v1h-3zM377 423h1v1h-1zM331 424h1v1h-1zM335 424h1v1h-1zM329 425h1v1h-1zM329 426h3v1h-3zM333 426h1v1h-1zM373 426h2v1h-2zM331 427h2v1h-2zM373 427h1v1h-1zM325 428h1v1h-1zM330 428h2v1h-2zM371 428h1v1h-1zM327 429h1v1h-1zM332 429h1v1h-1zM370 429h1v1h-1zM372 429h2v1h-2zM325 430h3v1h-3zM331 430h1v1h-1zM324 431h1v1h-1zM327 431h2v1h-2zM371 431h1v1h-1zM330 432h1v1h-1zM369 432h1v1h-1zM371 432h1v1h-1zM330 434h1v1h-1zM372 434h1v1h-1zM324 435h3v1h-3zM329 435h1v1h-1zM331 435h1v1h-1zM367 435h2v1h-2zM370 435h1v1h-1zM373 435h1v1h-1zM330 436h1v1h-1zM363 436h1v1h-1zM365 436h1v1h-1zM370 436h2v1h-2zM332 437h1v1h-1zM365 437h1v1h-1zM371 437h1v1h-1zM361 438h1v1h-1zM367 438h1v1h-1zM330 439h1v1h-1zM329 440h3v1h-3zM361 440h2v1h-2zM329 441h1v1h-1zM333 441h1v1h-1zM358 441h1v1h-1zM363 441h1v1h-1zM328 442h1v1h-1zM331 442h2v1h-2zM337 442h1v1h-1zM346 442h1v1h-1zM349 442h1v1h-1zM352 442h1v1h-1zM354 442h1v1h-1zM357 442h2v1h-2zM361 442h1v1h-1zM330 443h1v1h-1zM334 443h1v1h-1zM338 443h1v1h-1zM350 443h1v1h-1zM353 443h2v1h-2zM329 444h1v1h-1zM331 444h1v1h-1zM337 444h1v1h-1zM345 444h1v1h-1zM348 444h1v1h-1zM351 444h1v1h-1zM355 444h1v1h-1zM359 444h1v1h-1zM327 445h2v1h-2zM332 445h1v1h-1zM337 445h2v1h-2zM341 445h2v1h-2zM344 445h2v1h-2zM347 445h1v1h-1zM350 445h1v1h-1zM356 445h1v1h-1zM326 446h1v1h-1zM332 446h1v1h-1zM335 446h1v1h-1zM339 446h1v1h-1zM344 446h1v1h-1zM346 446h1v1h-1zM348 446h1v1h-1zM359 446h1v1h-1z"/>
<path fill="#5890d8" d="M369 399h2v1h-2zM368 400h2v1h-2zM373 400h1v1h-1zM375 400h1v1h-1zM366 401h1v1h-1zM373 401h1v1h-1zM375 401h1v1h-1zM365 402h1v1h-1zM374 402h2v1h-2zM375 403h1v1h-1zM364 404h1v1h-1zM376 404h2v1h-2zM364 405h1v1h-1zM376 405h2v1h-2zM376 406h2v1h-2zM377 407h1v1h-1zM362 408h1v1h-1zM376 408h1v1h-1zM361 409h1v1h-1zM377 409h1v1h-1zM350 411h1v1h-1zM360 411h1v1h-1zM376 411h1v1h-1zM349 412h3v1h-3zM357 412h1v1h-1zM359 412h1v1h-1zM349 413h1v1h-1zM351 413h5v1h-5zM357 413h3v1h-3zM361 413h1v1h-1zM375 413h2v1h-2zM349 414h3v1h-3zM353 414h1v1h-1zM355 414h3v1h-3zM361 414h1v1h-1zM376 414h1v1h-1zM349 415h1v1h-1zM353 415h3v1h-3zM375 415h2v1h-2zM347 416h1v1h-1zM350 416h2v1h-2zM375 416h2v1h-2zM346 417h6v1h-6zM341 418h1v1h-1zM345 418h1v1h-1zM347 418h2v1h-2zM373 418h1v1h-1zM340 419h3v1h-3zM344 419h3v1h-3zM372 419h1v1h-1zM340 420h1v1h-1zM342 420h1v1h-1zM344 420h1v1h-1zM371 420h3v1h-3zM338 421h2v1h-2zM370 421h1v1h-1zM372 421h1v1h-1zM338 422h2v1h-2zM343 422h1v1h-1zM337 423h1v1h-1zM340 423h4v1h-4zM371 423h1v1h-1zM336 424h1v1h-1zM338 424h2v1h-2zM371 424h1v1h-1zM336 425h2v1h-2zM339 425h1v1h-1zM371 425h1v1h-1zM334 426h5v1h-5zM366 426h2v1h-2zM370 426h3v1h-3zM334 427h3v1h-3zM368 427h1v1h-1zM372 427h1v1h-1zM334 428h3v1h-3zM368 428h1v1h-1zM333 429h2v1h-2zM336 429h1v1h-1zM368 429h1v1h-1zM333 430h1v1h-1zM336 430h1v1h-1zM368 430h2v1h-2zM332 431h1v1h-1zM334 431h1v1h-1zM367 431h1v1h-1zM332 432h4v1h-4zM361 432h2v1h-2zM368 432h1v1h-1zM330 433h3v1h-3zM334 433h2v1h-2zM364 433h4v1h-4zM333 434h2v1h-2zM336 434h1v1h-1zM359 434h2v1h-2zM362 434h2v1h-2zM365 434h1v1h-1zM332 435h2v1h-2zM335 435h1v1h-1zM358 435h5v1h-5zM364 435h1v1h-1zM332 436h4v1h-4zM358 436h1v1h-1zM361 436h2v1h-2zM333 437h1v1h-1zM335 437h3v1h-3zM356 437h4v1h-4zM361 437h1v1h-1zM334 438h1v1h-1zM337 438h1v1h-1zM340 438h1v1h-1zM345 438h1v1h-1zM356 438h4v1h-4zM334 439h3v1h-3zM338 439h1v1h-1zM340 439h1v1h-1zM345 439h2v1h-2zM350 439h6v1h-6zM358 439h3v1h-3zM335 440h2v1h-2zM339 440h2v1h-2zM345 440h1v1h-1zM347 440h2v1h-2zM350 440h2v1h-2zM354 440h5v1h-5zM360 440h1v1h-1zM335 441h2v1h-2zM338 441h1v1h-1zM341 441h1v1h-1zM343 441h1v1h-1zM345 441h1v1h-1zM347 441h1v1h-1zM349 441h1v1h-1zM354 441h1v1h-1zM341 442h2v1h-2zM344 442h1v1h-1zM350 442h1v1h-1zM340 443h2v1h-2z"/>
<path fill="#3f80cc" d="M369 401h3v1h-3zM367 402h7v1h-7zM366 403h2v1h-2zM373 403h2v1h-2zM365 404h2v1h-2zM373 404h1v1h-1zM375 404h1v1h-1zM365 405h1v1h-1zM373 405h3v1h-3zM364 406h2v1h-2zM374 406h2v1h-2zM364 407h1v1h-1zM374 407h1v1h-1zM363 408h1v1h-1zM375 408h1v1h-1zM362 409h1v1h-1zM375 409h1v1h-1zM361 410h2v1h-2zM361 411h2v1h-2zM375 411h1v1h-1zM362 412h1v1h-1zM374 412h2v1h-2zM362 413h2v1h-2zM374 413h1v1h-1zM362 414h2v1h-2zM356 415h5v1h-5zM362 415h2v1h-2zM373 415h2v1h-2zM353 416h11v1h-11zM373 416h2v1h-2zM353 417h6v1h-6zM361 417h3v1h-3zM371 417h3v1h-3zM351 418h6v1h-6zM363 418h1v1h-1zM369 418h3v1h-3zM349 419h1v1h-1zM351 419h7v1h-7zM362 419h2v1h-2zM367 419h5v1h-5zM341 420h1v1h-1zM345 420h1v1h-1zM347 420h4v1h-4zM353 420h1v1h-1zM355 420h3v1h-3zM362 420h7v1h-7zM340 421h3v1h-3zM344 421h3v1h-3zM348 421h1v1h-1zM354 421h1v1h-1zM356 421h1v1h-1zM362 421h4v1h-4zM367 421h1v1h-1zM369 421h1v1h-1zM340 422h1v1h-1zM345 422h2v1h-2zM355 422h2v1h-2zM362 422h1v1h-1zM364 422h7v1h-7zM344 423h2v1h-2zM356 423h1v1h-1zM364 423h2v1h-2zM367 423h4v1h-4zM342 424h1v1h-1zM344 424h2v1h-2zM364 424h2v1h-2zM368 424h2v1h-2zM340 425h8v1h-8zM364 425h2v1h-2zM367 425h1v1h-1zM369 425h2v1h-2zM339 426h9v1h-9zM364 426h2v1h-2zM368 426h2v1h-2zM337 427h6v1h-6zM344 427h3v1h-3zM363 427h2v1h-2zM337 428h3v1h-3zM342 428h1v1h-1zM345 428h1v1h-1zM358 428h7v1h-7zM366 428h1v1h-1zM337 429h1v1h-1zM339 429h5v1h-5zM358 429h1v1h-1zM360 429h3v1h-3zM365 429h3v1h-3zM337 430h8v1h-8zM359 430h1v1h-1zM361 430h1v1h-1zM363 430h5v1h-5zM336 431h1v1h-1zM338 431h6v1h-6zM345 431h1v1h-1zM359 431h5v1h-5zM365 431h1v1h-1zM336 432h8v1h-8zM345 432h1v1h-1zM354 432h2v1h-2zM357 432h4v1h-4zM363 432h3v1h-3zM337 433h2v1h-2zM343 433h3v1h-3zM353 433h7v1h-7zM338 434h1v1h-1zM343 434h2v1h-2zM346 434h1v1h-1zM353 434h2v1h-2zM356 434h3v1h-3zM336 435h16v1h-16zM353 435h5v1h-5zM336 436h1v1h-1zM338 436h9v1h-9zM348 436h7v1h-7zM356 436h1v1h-1zM340 437h5v1h-5zM346 437h10v1h-10zM341 438h3v1h-3zM347 438h8v1h-8zM341 439h4v1h-4zM347 439h1v1h-1zM342 440h1v1h-1zM344 440h1v1h-1zM342 441h1v1h-1z"/>
<path fill="#36a0c4" d="M368 403h4v1h-4zM367 404h1v1h-1zM371 404h2v1h-2zM366 405h1v1h-1zM372 405h1v1h-1zM366 406h1v1h-1zM373 406h1v1h-1zM364 408h1v1h-1zM374 408h1v1h-1zM363 409h1v1h-1zM374 409h1v1h-1zM363 410h1v1h-1zM374 410h1v1h-1zM363 411h1v1h-1zM374 411h1v1h-1zM363 412h1v1h-1zM373 412h1v1h-1zM364 413h1v1h-1zM373 413h1v1h-1zM364 414h1v1h-1zM373 414h1v1h-1zM364 415h2v1h-2zM371 415h2v1h-2zM364 416h9v1h-9zM359 417h2v1h-2zM364 417h7v1h-7zM358 418h4v1h-4zM364 418h4v1h-4zM358 419h4v1h-4zM364 419h3v1h-3zM351 420h2v1h-2zM358 420h4v1h-4zM349 421h5v1h-5zM357 421h2v1h-2zM360 421h2v1h-2zM348 422h7v1h-7zM359 422h3v1h-3zM346 423h10v1h-10zM357 423h7v1h-7zM346 424h4v1h-4zM353 424h11v1h-11zM348 425h2v1h-2zM353 425h11v1h-11zM348 426h3v1h-3zM352 426h12v1h-12zM343 427h1v1h-1zM347 427h4v1h-4zM352 427h8v1h-8zM361 427h2v1h-2zM343 428h2v1h-2zM346 428h3v1h-3zM353 428h4v1h-4zM344 429h4v1h-4zM354 429h4v1h-4zM345 430h3v1h-3zM353 430h6v1h-6zM346 431h4v1h-4zM351 431h8v1h-8zM346 432h4v1h-4zM351 432h3v1h-3zM356 432h1v1h-1zM339 433h4v1h-4zM346 433h7v1h-7zM339 434h4v1h-4zM345 434h1v1h-1zM347 434h6v1h-6z"/>
<path fill="#38a884" d="M368 404h3v1h-3zM367 405h2v1h-2zM371 405h1v1h-1zM367 406h1v1h-1zM372 406h1v1h-1zM366 407h1v1h-1zM372 407h1v1h-1zM365 408h2v1h-2zM373 408h1v1h-1zM364 409h2v1h-2zM373 409h1v1h-1zM364 410h1v1h-1zM373 410h1v1h-1zM364 411h1v1h-1zM373 411h1v1h-1zM365 412h1v1h-1zM365 413h2v1h-2zM372 413h1v1h-1zM365 414h4v1h-4zM371 414h2v1h-2zM366 415h5v1h-5zM350 424h3v1h-3zM350 425h3v1h-3zM351 426h1v1h-1zM351 427h1v1h-1zM349 428h4v1h-4zM348 429h6v1h-6zM348 430h5v1h-5z"/>
<path fill="#56b04a" d="M369 405h2v1h-2zM368 406h1v1h-1zM371 406h1v1h-1zM367 407h1v1h-1zM367 408h1v1h-1zM372 408h1v1h-1zM366 409h1v1h-1zM365 410h2v1h-2zM365 411h2v1h-2zM372 411h1v1h-1zM366 412h2v1h-2zM372 412h1v1h-1zM367 413h2v1h-2zM371 413h1v1h-1zM369 414h2v1h-2z"/>
<path fill="#b4b42c" d="M369 406h2v1h-2zM368 407h4v1h-4zM368 408h1v1h-1zM371 408h1v1h-1zM367 409h1v1h-1zM372 409h1v1h-1zM367 410h1v1h-1zM372 410h1v1h-1zM367 411h1v1h-1zM368 412h1v1h-1zM371 412h1v1h-1zM369 413h2v1h-2z"/>
<path fill="#d49a22" d="M369 408h2v1h-2zM368 409h4v1h-4zM368 410h4v1h-4zM368 411h4v1h-4zM369 412h2v1h-2z"/></g>
<rect x="323.1" y="366.2" width="82.1" height="81.3" fill="none" stroke="#a8a8a8" stroke-width="1" />
<text x="321.1" y="448.9" font-size="4.2" text-anchor="end" fill="#555">10<tspan font-size="2.8" dy="-1.5">0</tspan></text>
<text x="323.1" y="453.9" font-size="4.2" text-anchor="middle" fill="#555">10<tspan font-size="2.8" dy="-1.5">0</tspan></text>
<line x1="321.6" y1="447.5" x2="323.1" y2="447.5" stroke="#555" stroke-width="0.8" />
<line x1="323.1" y1="447.5" x2="323.1" y2="449" stroke="#555" stroke-width="0.8" />
<text x="321.1" y="428.6" font-size="4.2" text-anchor="end" fill="#555">10<tspan font-size="2.8" dy="-1.5">1</tspan></text>
<text x="343.6" y="453.9" font-size="4.2" text-anchor="middle" fill="#555">10<tspan font-size="2.8" dy="-1.5">1</tspan></text>
<line x1="321.6" y1="427.175" x2="323.1" y2="427.175" stroke="#555" stroke-width="0.8" />
<line x1="343.625" y1="447.5" x2="343.625" y2="449" stroke="#555" stroke-width="0.8" />
<text x="321.1" y="408.2" font-size="4.2" text-anchor="end" fill="#555">10<tspan font-size="2.8" dy="-1.5">2</tspan></text>
<text x="364.1" y="453.9" font-size="4.2" text-anchor="middle" fill="#555">10<tspan font-size="2.8" dy="-1.5">2</tspan></text>
<line x1="321.6" y1="406.85" x2="323.1" y2="406.85" stroke="#555" stroke-width="0.8" />
<line x1="364.15" y1="447.5" x2="364.15" y2="449" stroke="#555" stroke-width="0.8" />
<text x="321.1" y="387.9" font-size="4.2" text-anchor="end" fill="#555">10<tspan font-size="2.8" dy="-1.5">3</tspan></text>
<text x="384.7" y="453.9" font-size="4.2" text-anchor="middle" fill="#555">10<tspan font-size="2.8" dy="-1.5">3</tspan></text>
<line x1="321.6" y1="386.525" x2="323.1" y2="386.525" stroke="#555" stroke-width="0.8" />
<line x1="384.675" y1="447.5" x2="384.675" y2="449" stroke="#555" stroke-width="0.8" />
<text x="321.1" y="367.6" font-size="4.2" text-anchor="end" fill="#555">10<tspan font-size="2.8" dy="-1.5">4</tspan></text>
<text x="405.2" y="453.9" font-size="4.2" text-anchor="middle" fill="#555">10<tspan font-size="2.8" dy="-1.5">4</tspan></text>
<line x1="321.6" y1="366.2" x2="323.1" y2="366.2" stroke="#555" stroke-width="0.8" />
<line x1="405.2" y1="447.5" x2="405.2" y2="449" stroke="#555" stroke-width="0.8" />
<line x1="323.1" y1="366.2" x2="323.1" y2="448" stroke="#4a4a4a" stroke-width="1.2" />
<line x1="322.6" y1="447.5" x2="405.2" y2="447.5" stroke="#4a4a4a" stroke-width="1.2" />
<rect x="331.5" y="387.9" width="28.9" height="26.9" fill="none" stroke="#8c8c8c" stroke-width="0.9" />
<rect x="362.3" y="387.3" width="31.9" height="30" fill="none" stroke="#8c8c8c" stroke-width="0.9" />
<text x="346.1" y="381.5" font-size="12" stroke="#000" stroke-width="0.35" text-anchor="middle" >HP</text>
<text x="377.5" y="381.5" font-size="12" stroke="#000" stroke-width="0.35" text-anchor="middle" >HE</text>
<text x="336.6" y="397.2" font-size="10.5" font-weight="bold" >1</text>
<text x="389.4" y="397.2" font-size="10.5" font-weight="bold" text-anchor="end" >38</text>
<text x="323.3" y="362.9" font-size="12" stroke="#000" stroke-width="0.35" >- dox</text>
<text x="310" y="405.5" font-size="12" stroke="#000" stroke-width="0.4" text-anchor="middle" transform="rotate(-90 310 405.5)" >cKIT</text>
<text x="363.7" y="466" font-size="12.2" stroke="#000" stroke-width="0.4" text-anchor="middle" >TIE2</text>
<line x1="386.7" y1="412.5" x2="417" y2="412.5" stroke="#000" stroke-width="2" />
<path d="M423.2,412.5 L416,408.8 L416,416.2 Z" fill="#000" />
<g filter="url(#bl)"><path fill="#c0caf0" d="M402 515h1v1h-1zM374 520h1v1h-1zM389 520h1v1h-1zM369 521h1v1h-1zM374 521h1v1h-1zM356 522h1v1h-1zM377 522h1v1h-1zM364 524h1v1h-1zM375 524h1v1h-1zM380 524h1v1h-1zM376 525h2v1h-2zM377 526h1v1h-1zM351 527h1v1h-1zM338 528h1v1h-1zM344 528h1v1h-1zM368 528h1v1h-1zM372 528h1v1h-1zM352 529h1v1h-1zM359 529h2v1h-2zM365 529h2v1h-2zM370 529h1v1h-1zM375 529h1v1h-1zM350 530h2v1h-2zM354 530h1v1h-1zM356 530h2v1h-2zM362 530h3v1h-3zM366 530h1v1h-1zM369 530h1v1h-1zM352 531h1v1h-1zM355 531h1v1h-1zM357 531h1v1h-1zM359 531h3v1h-3zM369 531h1v1h-1zM345 532h1v1h-1zM350 532h1v1h-1zM354 532h2v1h-2zM359 532h1v1h-1zM363 532h2v1h-2zM372 532h2v1h-2zM375 532h1v1h-1zM353 533h1v1h-1zM356 533h1v1h-1zM358 533h1v1h-1zM361 533h1v1h-1zM371 533h2v1h-2zM382 533h1v1h-1zM336 534h1v1h-1zM361 534h1v1h-1zM378 534h1v1h-1zM391 534h1v1h-1zM344 535h1v1h-1zM350 535h2v1h-2zM353 535h1v1h-1zM360 535h1v1h-1zM366 535h2v1h-2zM370 535h1v1h-1zM374 535h1v1h-1zM378 535h1v1h-1zM387 535h1v1h-1zM348 536h1v1h-1zM369 536h1v1h-1zM373 536h1v1h-1zM344 537h1v1h-1zM348 537h2v1h-2zM375 537h1v1h-1zM378 537h1v1h-1zM381 537h1v1h-1zM383 537h1v1h-1zM387 537h1v1h-1zM341 538h1v1h-1zM349 538h1v1h-1zM369 538h1v1h-1zM376 538h1v1h-1zM378 538h1v1h-1zM381 538h1v1h-1zM388 538h1v1h-1zM335 539h1v1h-1zM339 539h1v1h-1zM341 539h1v1h-1zM376 539h1v1h-1zM381 539h1v1h-1zM324 540h1v1h-1zM345 540h2v1h-2zM349 540h1v1h-1zM384 540h1v1h-1zM389 540h1v1h-1zM329 541h1v1h-1zM342 541h1v1h-1zM371 541h1v1h-1zM376 541h1v1h-1zM379 541h1v1h-1zM334 542h1v1h-1zM336 542h1v1h-1zM341 542h1v1h-1zM375 542h1v1h-1zM337 543h1v1h-1zM383 543h1v1h-1zM386 543h1v1h-1zM332 544h1v1h-1zM336 544h1v1h-1zM338 544h2v1h-2zM376 544h1v1h-1zM386 544h1v1h-1zM388 544h1v1h-1zM341 545h1v1h-1zM332 546h1v1h-1zM337 546h1v1h-1zM341 546h1v1h-1zM378 546h1v1h-1zM337 547h1v1h-1zM376 547h1v1h-1zM379 547h1v1h-1zM339 548h1v1h-1zM381 548h1v1h-1zM325 549h1v1h-1zM377 549h1v1h-1zM379 549h1v1h-1zM333 550h1v1h-1zM335 550h1v1h-1zM338 550h1v1h-1zM377 550h2v1h-2zM394 551h1v1h-1zM330 552h1v1h-1zM375 552h1v1h-1zM377 552h1v1h-1zM375 553h1v1h-1zM377 553h1v1h-1zM327 554h1v1h-1zM337 554h1v1h-1zM334 555h1v1h-1zM336 555h1v1h-1zM388 555h1v1h-1zM329 556h1v1h-1zM333 556h1v1h-1zM380 556h1v1h-1zM385 556h1v1h-1zM376 557h1v1h-1zM379 557h1v1h-1zM382 557h1v1h-1zM329 558h1v1h-1zM331 558h3v1h-3zM375 558h2v1h-2zM394 558h1v1h-1zM327 559h1v1h-1zM331 559h1v1h-1zM379 559h1v1h-1zM330 560h3v1h-3zM375 560h1v1h-1zM331 561h1v1h-1zM326 562h2v1h-2zM374 562h2v1h-2zM389 562h1v1h-1zM400 562h1v1h-1zM326 563h1v1h-1zM373 563h1v1h-1zM376 563h1v1h-1zM379 563h1v1h-1zM325 564h1v1h-1zM330 564h2v1h-2zM327 565h1v1h-1zM332 565h1v1h-1zM335 565h1v1h-1zM371 565h1v1h-1zM374 565h1v1h-1zM328 566h1v1h-1zM366 567h2v1h-2zM327 568h1v1h-1zM324 569h1v1h-1zM371 569h1v1h-1zM373 569h1v1h-1zM326 570h2v1h-2zM366 570h2v1h-2zM370 570h1v1h-1zM367 571h2v1h-2zM367 572h1v1h-1zM328 573h1v1h-1zM332 573h1v1h-1zM364 573h1v1h-1zM367 573h1v1h-1zM330 574h2v1h-2zM333 574h1v1h-1zM360 575h3v1h-3zM366 575h1v1h-1zM329 576h2v1h-2zM335 576h1v1h-1zM358 576h1v1h-1zM362 576h1v1h-1zM369 576h1v1h-1zM372 576h1v1h-1zM324 577h1v1h-1zM333 577h1v1h-1zM335 577h1v1h-1zM338 577h1v1h-1zM358 577h1v1h-1zM361 577h1v1h-1zM363 577h1v1h-1zM367 577h1v1h-1zM337 578h2v1h-2zM349 578h1v1h-1zM351 578h1v1h-1zM357 578h2v1h-2zM330 579h1v1h-1zM335 579h1v1h-1zM338 579h2v1h-2zM353 579h2v1h-2zM359 579h2v1h-2zM334 580h1v1h-1zM341 580h1v1h-1zM348 580h1v1h-1zM350 580h1v1h-1zM355 580h1v1h-1zM366 580h1v1h-1zM328 581h1v1h-1zM333 581h1v1h-1zM337 581h1v1h-1zM339 581h1v1h-1zM327 582h1v1h-1zM335 582h1v1h-1zM337 582h2v1h-2zM346 582h1v1h-1zM351 582h1v1h-1zM356 582h1v1h-1zM339 583h1v1h-1zM342 583h4v1h-4zM329 584h2v1h-2zM338 584h1v1h-1zM347 584h2v1h-2zM350 584h1v1h-1zM364 584h1v1h-1zM339 585h2v1h-2zM358 585h1v1h-1zM362 585h1v1h-1zM364 585h1v1h-1zM335 586h1v1h-1zM341 586h1v1h-1zM349 586h1v1h-1zM353 586h1v1h-1zM360 586h1v1h-1zM327 587h1v1h-1zM354 587h1v1h-1zM339 588h1v1h-1zM349 588h1v1h-1z"/>
<path fill="#8eb0e6" d="M362 531h1v1h-1zM357 534h1v1h-1zM355 535h3v1h-3zM350 536h3v1h-3zM356 536h2v1h-2zM359 536h1v1h-1zM364 536h1v1h-1zM353 537h1v1h-1zM355 537h1v1h-1zM359 537h1v1h-1zM362 537h4v1h-4zM371 537h1v1h-1zM373 537h1v1h-1zM351 538h3v1h-3zM355 538h3v1h-3zM360 538h2v1h-2zM364 538h1v1h-1zM366 538h1v1h-1zM370 538h1v1h-1zM373 538h2v1h-2zM352 539h1v1h-1zM354 539h1v1h-1zM356 539h1v1h-1zM361 539h1v1h-1zM363 539h1v1h-1zM365 539h2v1h-2zM374 539h1v1h-1zM352 540h2v1h-2zM355 540h1v1h-1zM361 540h2v1h-2zM368 540h2v1h-2zM371 540h4v1h-4zM343 541h1v1h-1zM345 541h1v1h-1zM347 541h1v1h-1zM349 541h1v1h-1zM352 541h2v1h-2zM356 541h2v1h-2zM363 541h1v1h-1zM365 541h1v1h-1zM368 541h2v1h-2zM374 541h2v1h-2zM342 542h2v1h-2zM346 542h2v1h-2zM350 542h2v1h-2zM369 542h1v1h-1zM342 543h4v1h-4zM347 543h1v1h-1zM349 543h2v1h-2zM370 543h1v1h-1zM342 544h1v1h-1zM344 544h3v1h-3zM348 544h1v1h-1zM350 544h1v1h-1zM371 544h1v1h-1zM344 545h1v1h-1zM346 545h2v1h-2zM350 545h1v1h-1zM372 545h2v1h-2zM344 546h1v1h-1zM346 546h2v1h-2zM374 546h1v1h-1zM342 547h1v1h-1zM344 547h2v1h-2zM372 547h1v1h-1zM375 547h1v1h-1zM340 548h1v1h-1zM342 548h1v1h-1zM373 548h2v1h-2zM339 549h5v1h-5zM375 549h2v1h-2zM342 550h1v1h-1zM372 550h1v1h-1zM375 550h1v1h-1zM339 551h2v1h-2zM342 551h2v1h-2zM372 551h2v1h-2zM339 552h1v1h-1zM341 552h1v1h-1zM343 552h1v1h-1zM372 552h1v1h-1zM374 552h1v1h-1zM338 553h3v1h-3zM371 553h2v1h-2zM370 554h1v1h-1zM338 555h1v1h-1zM372 555h1v1h-1zM374 555h1v1h-1zM334 556h2v1h-2zM373 556h2v1h-2zM334 557h1v1h-1zM337 557h1v1h-1zM370 557h1v1h-1zM372 557h1v1h-1zM335 558h1v1h-1zM369 558h2v1h-2zM336 559h1v1h-1zM368 559h2v1h-2zM372 559h1v1h-1zM334 560h1v1h-1zM336 560h1v1h-1zM366 560h2v1h-2zM372 560h1v1h-1zM335 561h3v1h-3zM369 561h1v1h-1zM371 561h1v1h-1zM333 562h2v1h-2zM336 562h1v1h-1zM366 562h7v1h-7zM331 563h3v1h-3zM336 563h1v1h-1zM364 563h2v1h-2zM367 563h3v1h-3zM371 563h2v1h-2zM332 564h1v1h-1zM337 564h1v1h-1zM364 564h3v1h-3zM368 564h2v1h-2zM362 565h3v1h-3zM367 565h2v1h-2zM335 566h1v1h-1zM337 566h1v1h-1zM362 566h1v1h-1zM329 567h1v1h-1zM331 567h2v1h-2zM335 567h2v1h-2zM362 567h1v1h-1zM368 567h1v1h-1zM370 567h1v1h-1zM328 568h1v1h-1zM330 568h1v1h-1zM333 568h4v1h-4zM362 568h3v1h-3zM369 568h2v1h-2zM329 569h1v1h-1zM333 569h2v1h-2zM359 569h2v1h-2zM363 569h1v1h-1zM370 569h1v1h-1zM329 570h2v1h-2zM335 570h2v1h-2zM359 570h2v1h-2zM362 570h1v1h-1zM364 570h2v1h-2zM329 571h3v1h-3zM335 571h1v1h-1zM337 571h1v1h-1zM359 571h1v1h-1zM363 571h1v1h-1zM330 572h2v1h-2zM334 572h2v1h-2zM337 572h1v1h-1zM358 572h1v1h-1zM360 572h1v1h-1zM337 573h1v1h-1zM339 573h1v1h-1zM347 573h1v1h-1zM350 573h1v1h-1zM357 573h4v1h-4zM337 574h1v1h-1zM339 574h1v1h-1zM341 574h1v1h-1zM346 574h5v1h-5zM352 574h4v1h-4zM357 574h1v1h-1zM337 575h2v1h-2zM341 575h2v1h-2zM346 575h1v1h-1zM352 575h1v1h-1zM356 575h1v1h-1zM343 576h1v1h-1zM346 576h2v1h-2zM349 576h5v1h-5zM342 577h2v1h-2zM345 577h1v1h-1zM342 578h1v1h-1zM344 578h2v1h-2zM348 578h1v1h-1zM345 579h2v1h-2zM348 579h1v1h-1zM342 580h1v1h-1zM344 580h1v1h-1zM346 580h1v1h-1zM342 581h1v1h-1zM346 581h1v1h-1zM342 582h1v1h-1z"/>
<path fill="#5890d8" d="M358 538h2v1h-2zM358 539h3v1h-3zM358 540h3v1h-3zM354 541h1v1h-1zM359 541h2v1h-2zM366 541h2v1h-2zM353 542h3v1h-3zM359 542h1v1h-1zM361 542h1v1h-1zM363 542h5v1h-5zM351 543h1v1h-1zM353 543h2v1h-2zM357 543h2v1h-2zM363 543h4v1h-4zM368 543h2v1h-2zM351 544h2v1h-2zM368 544h3v1h-3zM351 545h2v1h-2zM370 545h2v1h-2zM370 546h2v1h-2zM346 547h3v1h-3zM350 547h2v1h-2zM370 547h1v1h-1zM344 548h6v1h-6zM370 548h2v1h-2zM344 549h4v1h-4zM370 549h2v1h-2zM344 550h3v1h-3zM370 550h2v1h-2zM346 551h1v1h-1zM370 551h2v1h-2zM345 552h1v1h-1zM370 552h2v1h-2zM342 553h1v1h-1zM344 553h2v1h-2zM369 553h1v1h-1zM340 554h5v1h-5zM368 554h2v1h-2zM341 555h1v1h-1zM343 555h2v1h-2zM367 555h4v1h-4zM339 556h5v1h-5zM366 556h5v1h-5zM338 557h2v1h-2zM342 557h1v1h-1zM365 557h2v1h-2zM368 557h1v1h-1zM337 558h6v1h-6zM364 558h3v1h-3zM337 559h5v1h-5zM363 559h2v1h-2zM337 560h3v1h-3zM363 560h3v1h-3zM338 561h1v1h-1zM341 561h1v1h-1zM363 561h3v1h-3zM338 562h4v1h-4zM362 562h3v1h-3zM338 563h1v1h-1zM340 563h1v1h-1zM360 563h1v1h-1zM362 563h1v1h-1zM338 564h3v1h-3zM358 564h3v1h-3zM362 564h1v1h-1zM338 565h2v1h-2zM357 565h1v1h-1zM359 565h2v1h-2zM338 566h2v1h-2zM357 566h5v1h-5zM339 567h1v1h-1zM355 567h1v1h-1zM357 567h1v1h-1zM359 567h1v1h-1zM361 567h1v1h-1zM338 568h1v1h-1zM355 568h7v1h-7zM338 569h2v1h-2zM355 569h2v1h-2zM358 569h1v1h-1zM339 570h2v1h-2zM342 570h1v1h-1zM346 570h4v1h-4zM351 570h6v1h-6zM338 571h9v1h-9zM348 571h10v1h-10zM342 572h1v1h-1zM344 572h3v1h-3zM348 572h1v1h-1zM351 572h1v1h-1zM353 572h4v1h-4zM340 573h4v1h-4zM351 573h1v1h-1zM353 573h3v1h-3zM343 574h2v1h-2zM344 575h2v1h-2zM344 576h2v1h-2z"/>
<path fill="#3f80cc" d="M355 543h1v1h-1zM359 543h2v1h-2zM354 544h1v1h-1zM356 544h1v1h-1zM358 544h9v1h-9zM353 545h3v1h-3zM361 545h8v1h-8zM352 546h3v1h-3zM363 546h7v1h-7zM352 547h2v1h-2zM368 547h2v1h-2zM350 548h2v1h-2zM368 548h2v1h-2zM348 549h3v1h-3zM368 549h1v1h-1zM347 550h3v1h-3zM368 550h2v1h-2zM347 551h2v1h-2zM367 551h3v1h-3zM348 552h1v1h-1zM366 552h3v1h-3zM346 553h3v1h-3zM365 553h3v1h-3zM345 554h4v1h-4zM364 554h4v1h-4zM345 555h4v1h-4zM364 555h3v1h-3zM345 556h4v1h-4zM363 556h3v1h-3zM343 557h4v1h-4zM362 557h2v1h-2zM343 558h2v1h-2zM355 558h1v1h-1zM361 558h3v1h-3zM343 559h2v1h-2zM350 559h2v1h-2zM353 559h5v1h-5zM361 559h2v1h-2zM342 560h3v1h-3zM354 560h3v1h-3zM359 560h4v1h-4zM342 561h3v1h-3zM354 561h6v1h-6zM361 561h2v1h-2zM342 562h4v1h-4zM354 562h2v1h-2zM357 562h3v1h-3zM361 562h1v1h-1zM341 563h2v1h-2zM344 563h1v1h-1zM353 563h5v1h-5zM359 563h1v1h-1zM342 564h3v1h-3zM353 564h5v1h-5zM340 565h6v1h-6zM352 565h5v1h-5zM341 566h7v1h-7zM351 566h3v1h-3zM355 566h2v1h-2zM340 567h2v1h-2zM343 567h8v1h-8zM352 567h1v1h-1zM339 568h3v1h-3zM343 568h6v1h-6zM350 568h4v1h-4zM340 569h8v1h-8zM349 569h6v1h-6zM341 570h1v1h-1zM343 570h3v1h-3z"/>
<path fill="#36a0c4" d="M356 545h5v1h-5zM355 546h8v1h-8zM354 547h2v1h-2zM362 547h6v1h-6zM353 548h2v1h-2zM363 548h5v1h-5zM351 549h3v1h-3zM364 549h4v1h-4zM350 550h2v1h-2zM364 550h4v1h-4zM349 551h2v1h-2zM364 551h3v1h-3zM349 552h2v1h-2zM362 552h4v1h-4zM349 553h2v1h-2zM360 553h4v1h-4zM349 554h2v1h-2zM360 554h1v1h-1zM362 554h2v1h-2zM349 555h2v1h-2zM359 555h4v1h-4zM349 556h3v1h-3zM353 556h10v1h-10zM347 557h15v1h-15zM345 558h9v1h-9zM356 558h5v1h-5zM345 559h5v1h-5zM352 559h1v1h-1zM358 559h3v1h-3zM345 560h9v1h-9zM346 561h8v1h-8zM346 562h8v1h-8zM345 563h3v1h-3zM349 563h4v1h-4zM345 564h8v1h-8zM347 565h5v1h-5zM348 566h3v1h-3z"/>
<path fill="#38a884" d="M356 547h6v1h-6zM355 548h3v1h-3zM362 548h1v1h-1zM354 549h2v1h-2zM363 549h1v1h-1zM352 550h2v1h-2zM363 550h1v1h-1zM351 551h2v1h-2zM360 551h4v1h-4zM351 552h2v1h-2zM359 552h2v1h-2zM351 553h1v1h-1zM359 553h1v1h-1zM351 554h5v1h-5zM358 554h2v1h-2zM351 555h8v1h-8zM352 556h1v1h-1z"/>
<path fill="#56b04a" d="M358 548h4v1h-4zM356 549h7v1h-7zM354 550h9v1h-9zM353 551h7v1h-7zM353 552h6v1h-6zM352 553h7v1h-7zM356 554h2v1h-2z"/></g>
<rect x="322.6" y="507.6" width="82.3" height="82.2" fill="none" stroke="#a8a8a8" stroke-width="1" />
<text x="320.6" y="591.2" font-size="4.2" text-anchor="end" fill="#555">10<tspan font-size="2.8" dy="-1.5">0</tspan></text>
<text x="322.6" y="596.2" font-size="4.2" text-anchor="middle" fill="#555">10<tspan font-size="2.8" dy="-1.5">0</tspan></text>
<line x1="321.1" y1="589.8" x2="322.6" y2="589.8" stroke="#555" stroke-width="0.8" />
<line x1="322.6" y1="589.8" x2="322.6" y2="591.3" stroke="#555" stroke-width="0.8" />
<text x="320.6" y="570.6" font-size="4.2" text-anchor="end" fill="#555">10<tspan font-size="2.8" dy="-1.5">1</tspan></text>
<text x="343.2" y="596.2" font-size="4.2" text-anchor="middle" fill="#555">10<tspan font-size="2.8" dy="-1.5">1</tspan></text>
<line x1="321.1" y1="569.25" x2="322.6" y2="569.25" stroke="#555" stroke-width="0.8" />
<line x1="343.175" y1="589.8" x2="343.175" y2="591.3" stroke="#555" stroke-width="0.8" />
<text x="320.6" y="550.1" font-size="4.2" text-anchor="end" fill="#555">10<tspan font-size="2.8" dy="-1.5">2</tspan></text>
<text x="363.8" y="596.2" font-size="4.2" text-anchor="middle" fill="#555">10<tspan font-size="2.8" dy="-1.5">2</tspan></text>
<line x1="321.1" y1="548.7" x2="322.6" y2="548.7" stroke="#555" stroke-width="0.8" />
<line x1="363.75" y1="589.8" x2="363.75" y2="591.3" stroke="#555" stroke-width="0.8" />
<text x="320.6" y="529.5" font-size="4.2" text-anchor="end" fill="#555">10<tspan font-size="2.8" dy="-1.5">3</tspan></text>
<text x="384.3" y="596.2" font-size="4.2" text-anchor="middle" fill="#555">10<tspan font-size="2.8" dy="-1.5">3</tspan></text>
<line x1="321.1" y1="528.15" x2="322.6" y2="528.15" stroke="#555" stroke-width="0.8" />
<line x1="384.325" y1="589.8" x2="384.325" y2="591.3" stroke="#555" stroke-width="0.8" />
<text x="320.6" y="509.0" font-size="4.2" text-anchor="end" fill="#555">10<tspan font-size="2.8" dy="-1.5">4</tspan></text>
<text x="404.9" y="596.2" font-size="4.2" text-anchor="middle" fill="#555">10<tspan font-size="2.8" dy="-1.5">4</tspan></text>
<line x1="321.1" y1="507.6" x2="322.6" y2="507.6" stroke="#555" stroke-width="0.8" />
<line x1="404.9" y1="589.8" x2="404.9" y2="591.3" stroke="#555" stroke-width="0.8" />
<line x1="322.6" y1="507.6" x2="322.6" y2="590.3" stroke="#4a4a4a" stroke-width="1.2" />
<line x1="322.1" y1="589.8" x2="404.9" y2="589.8" stroke="#4a4a4a" stroke-width="1.2" />
<rect x="332" y="529.3" width="28.6" height="26.7" fill="none" stroke="#8c8c8c" stroke-width="0.9" />
<rect x="362.5" y="528.6" width="32.1" height="30.2" fill="none" stroke="#8c8c8c" stroke-width="0.9" />
<text x="346.6" y="526.2" font-size="12" stroke="#000" stroke-width="0.35" text-anchor="middle" >HP</text>
<text x="377.9" y="526.2" font-size="12" stroke="#000" stroke-width="0.35" text-anchor="middle" >HE</text>
<text x="335.3" y="543.9" font-size="10.5" font-weight="bold" >30</text>
<text x="389.7" y="543.9" font-size="10.5" font-weight="bold" text-anchor="end" >18</text>
<text x="323.7" y="504.5" font-size="12" stroke="#000" stroke-width="0.35" >+ dox</text>
<text x="310" y="546.6" font-size="12" stroke="#000" stroke-width="0.4" text-anchor="middle" transform="rotate(-90 310 546.6)" >cKIT</text>
<text x="363.7" y="608.2" font-size="12.2" stroke="#000" stroke-width="0.4" text-anchor="middle" >TIE2</text>
<path d="M366.6,533.5 V481 H416" fill="none" stroke="#000" stroke-width="2" />
<path d="M422.3,481 L415.2,477.3 L415.2,484.7 Z" fill="#000" />
<path d="M340,554 V620.6 H416.5" fill="none" stroke="#000" stroke-width="2" />
<path d="M423,620.6 L415.8,616.9 L415.8,624.3 Z" fill="#000" />
<g filter="url(#bl)"><path fill="#c0caf0" d="M472 388h1v1h-1zM479 394h1v1h-1zM479 396h1v1h-1zM468 397h1v1h-1zM479 398h1v1h-1zM478 399h1v1h-1zM481 399h2v1h-2zM477 401h1v1h-1zM481 401h2v1h-2zM477 403h1v1h-1zM472 404h1v1h-1zM474 404h1v1h-1zM468 408h1v1h-1zM470 408h1v1h-1zM472 408h1v1h-1zM474 408h1v1h-1zM472 409h1v1h-1zM467 410h1v1h-1zM449 411h1v1h-1zM464 411h1v1h-1zM466 412h2v1h-2zM449 413h1v1h-1zM452 413h1v1h-1zM459 413h1v1h-1zM463 413h2v1h-2zM455 414h1v1h-1zM461 414h1v1h-1zM446 415h1v1h-1zM448 415h1v1h-1zM451 415h1v1h-1zM454 415h1v1h-1zM458 415h1v1h-1zM463 415h1v1h-1zM448 416h1v1h-1zM453 416h1v1h-1zM456 416h1v1h-1zM452 417h1v1h-1zM460 418h1v1h-1zM464 418h1v1h-1zM443 420h2v1h-2zM463 421h1v1h-1zM439 422h1v1h-1zM461 422h1v1h-1zM461 424h1v1h-1zM439 425h1v1h-1zM441 426h1v1h-1zM439 427h1v1h-1zM460 427h1v1h-1zM457 437h1v1h-1zM455 438h2v1h-2zM438 439h1v1h-1zM438 440h1v1h-1zM440 440h1v1h-1zM456 441h1v1h-1zM438 442h1v1h-1zM453 442h1v1h-1zM456 442h1v1h-1zM458 443h1v1h-1zM439 444h1v1h-1zM453 445h1v1h-1z"/>
<path fill="#8eb0e6" d="M475 402h1v1h-1zM475 403h2v1h-2zM472 405h2v1h-2zM471 406h2v1h-2zM448 418h1v1h-1zM450 418h1v1h-1zM453 418h1v1h-1zM461 418h1v1h-1zM447 419h1v1h-1zM449 419h1v1h-1zM457 419h1v1h-1zM461 419h2v1h-2zM446 420h1v1h-1zM448 420h1v1h-1zM455 420h3v1h-3zM459 420h1v1h-1zM461 420h1v1h-1zM444 421h1v1h-1zM457 421h1v1h-1zM459 421h1v1h-1zM444 422h1v1h-1zM458 422h1v1h-1zM458 423h3v1h-3zM459 424h1v1h-1zM458 425h2v1h-2zM458 427h1v1h-1zM440 428h2v1h-2zM458 429h1v1h-1zM439 430h1v1h-1zM438 431h2v1h-2zM458 431h1v1h-1zM456 434h1v1h-1zM440 435h1v1h-1zM439 436h2v1h-2zM456 436h1v1h-1zM454 437h1v1h-1zM452 439h1v1h-1zM442 440h1v1h-1zM452 440h1v1h-1zM441 441h1v1h-1zM441 442h3v1h-3zM451 442h1v1h-1zM440 443h1v1h-1zM447 443h1v1h-1zM449 443h2v1h-2zM452 443h1v1h-1zM447 444h1v1h-1zM452 444h1v1h-1zM442 445h3v1h-3zM448 445h1v1h-1z"/>
<path fill="#5890d8" d="M451 419h2v1h-2zM449 420h6v1h-6zM448 421h3v1h-3zM452 421h1v1h-1zM454 421h1v1h-1zM456 421h1v1h-1zM446 422h5v1h-5zM455 422h1v1h-1zM457 422h1v1h-1zM445 423h1v1h-1zM456 424h2v1h-2zM444 425h1v1h-1zM457 425h1v1h-1zM443 426h1v1h-1zM443 427h1v1h-1zM442 428h1v1h-1zM441 429h1v1h-1zM441 430h1v1h-1zM440 431h1v1h-1zM457 431h1v1h-1zM441 432h1v1h-1zM456 432h1v1h-1zM440 433h1v1h-1zM456 433h1v1h-1zM441 434h1v1h-1zM454 435h1v1h-1zM441 436h1v1h-1zM441 437h2v1h-2zM453 437h1v1h-1zM442 438h2v1h-2zM451 438h1v1h-1zM443 439h1v1h-1zM443 440h2v1h-2zM450 440h2v1h-2zM444 441h1v1h-1zM446 441h6v1h-6zM444 442h2v1h-2zM450 442h1v1h-1zM445 443h2v1h-2zM445 444h2v1h-2zM445 445h2v1h-2z"/>
<path fill="#3f80cc" d="M451 422h4v1h-4zM447 423h1v1h-1zM449 423h2v1h-2zM452 423h4v1h-4zM445 424h2v1h-2zM454 424h1v1h-1zM445 425h1v1h-1zM455 425h2v1h-2zM444 426h1v1h-1zM455 426h1v1h-1zM456 427h1v1h-1zM443 428h1v1h-1zM456 428h1v1h-1zM456 429h1v1h-1zM442 430h1v1h-1zM455 430h2v1h-2zM442 431h1v1h-1zM455 431h2v1h-2zM442 432h1v1h-1zM455 432h1v1h-1zM442 433h1v1h-1zM455 433h1v1h-1zM442 434h1v1h-1zM454 434h1v1h-1zM442 435h1v1h-1zM453 435h1v1h-1zM442 436h2v1h-2zM453 436h1v1h-1zM443 437h2v1h-2zM452 437h1v1h-1zM445 438h1v1h-1zM450 438h1v1h-1zM444 439h6v1h-6zM445 440h2v1h-2zM448 440h2v1h-2z"/>
<path fill="#36a0c4" d="M447 424h3v1h-3zM451 424h3v1h-3zM446 425h1v1h-1zM453 425h2v1h-2zM454 426h1v1h-1zM445 427h2v1h-2zM454 427h2v1h-2zM444 428h2v1h-2zM454 428h2v1h-2zM443 429h1v1h-1zM454 429h2v1h-2zM443 430h1v1h-1zM454 430h1v1h-1zM454 431h1v1h-1zM454 432h1v1h-1zM443 433h2v1h-2zM443 434h3v1h-3zM453 434h1v1h-1zM443 435h3v1h-3zM452 435h1v1h-1zM444 436h2v1h-2zM452 436h1v1h-1zM445 437h1v1h-1zM449 437h2v1h-2zM446 438h3v1h-3z"/>
<path fill="#38a884" d="M447 425h6v1h-6zM446 426h4v1h-4zM452 426h2v1h-2zM447 427h3v1h-3zM452 427h2v1h-2zM446 428h4v1h-4zM452 428h2v1h-2zM444 429h3v1h-3zM453 429h1v1h-1zM453 430h1v1h-1zM443 431h1v1h-1zM453 431h1v1h-1zM443 432h2v1h-2zM453 432h1v1h-1zM445 433h2v1h-2zM453 433h1v1h-1zM446 434h1v1h-1zM452 434h1v1h-1zM451 435h1v1h-1zM446 436h1v1h-1zM450 436h2v1h-2zM446 437h3v1h-3z"/>
<path fill="#56b04a" d="M450 426h2v1h-2zM450 427h2v1h-2zM450 428h2v1h-2zM447 429h6v1h-6zM444 430h9v1h-9zM444 431h9v1h-9zM445 432h8v1h-8zM447 433h6v1h-6zM447 434h5v1h-5zM447 435h4v1h-4zM447 436h3v1h-3z"/></g>
<g filter="url(#bl)"><path fill="#c8ccf2" d="M476 490h1v1h-1zM481 490h1v1h-1zM476 491h1v1h-1zM481 491h1v1h-1zM483 491h1v1h-1zM484 492h1v1h-1zM475 493h1v1h-1zM475 495h1v1h-1zM486 495h1v1h-1zM471 496h1v1h-1zM475 496h1v1h-1zM477 496h1v1h-1zM477 497h1v1h-1zM470 499h1v1h-1zM472 499h1v1h-1zM486 499h1v1h-1zM463 500h1v1h-1zM470 500h1v1h-1zM483 500h1v1h-1zM486 500h1v1h-1zM466 501h2v1h-2zM484 501h1v1h-1zM487 501h1v1h-1zM482 502h1v1h-1zM485 502h2v1h-2zM464 503h1v1h-1zM481 503h1v1h-1zM480 504h1v1h-1zM479 505h1v1h-1zM484 505h1v1h-1zM464 506h1v1h-1zM457 507h1v1h-1zM462 507h1v1h-1zM481 507h1v1h-1zM463 508h1v1h-1zM478 508h1v1h-1zM460 510h1v1h-1zM480 510h1v1h-1zM476 511h1v1h-1zM450 513h1v1h-1zM453 513h1v1h-1zM456 513h1v1h-1zM475 513h1v1h-1zM453 514h1v1h-1zM474 514h1v1h-1zM454 515h1v1h-1zM445 516h1v1h-1zM453 516h1v1h-1zM471 516h1v1h-1zM452 517h1v1h-1zM472 518h1v1h-1zM449 519h1v1h-1zM469 519h1v1h-1zM449 521h1v1h-1zM467 521h1v1h-1zM465 522h1v1h-1zM445 523h1v1h-1zM462 523h1v1h-1zM470 523h1v1h-1zM445 524h1v1h-1zM447 524h1v1h-1zM459 524h2v1h-2zM448 525h1v1h-1zM458 525h1v1h-1zM462 525h1v1h-1zM457 526h2v1h-2zM443 527h4v1h-4zM458 527h1v1h-1zM463 527h1v1h-1zM448 528h1v1h-1zM455 528h1v1h-1zM459 528h1v1h-1zM441 529h1v1h-1zM454 529h1v1h-1zM441 530h1v1h-1zM457 530h1v1h-1zM443 531h1v1h-1zM440 532h2v1h-2zM450 532h1v1h-1zM439 533h1v1h-1zM451 534h1v1h-1zM441 535h1v1h-1zM449 535h1v1h-1zM443 536h1v1h-1zM445 537h3v1h-3z"/>
<path fill="#a4ace8" d="M482 491h1v1h-1zM478 493h1v1h-1zM480 493h1v1h-1zM482 493h3v1h-3zM478 494h4v1h-4zM483 494h2v1h-2zM478 495h3v1h-3zM482 495h3v1h-3zM482 496h3v1h-3zM479 497h3v1h-3zM483 497h3v1h-3zM475 498h2v1h-2zM479 498h3v1h-3zM483 498h2v1h-2zM486 498h1v1h-1zM473 499h4v1h-4zM480 499h3v1h-3zM484 499h1v1h-1zM474 500h1v1h-1zM476 500h2v1h-2zM470 501h2v1h-2zM473 501h1v1h-1zM477 501h4v1h-4zM470 502h2v1h-2zM473 502h1v1h-1zM478 502h1v1h-1zM480 502h1v1h-1zM469 503h3v1h-3zM477 503h1v1h-1zM466 504h1v1h-1zM469 504h2v1h-2zM476 504h3v1h-3zM466 505h3v1h-3zM476 505h1v1h-1zM466 506h1v1h-1zM475 506h1v1h-1zM477 506h1v1h-1zM466 507h1v1h-1zM474 507h4v1h-4zM465 508h1v1h-1zM472 508h2v1h-2zM464 509h1v1h-1zM475 509h1v1h-1zM472 510h4v1h-4zM460 511h1v1h-1zM474 511h1v1h-1zM459 512h2v1h-2zM472 512h1v1h-1zM458 513h2v1h-2zM471 513h1v1h-1zM457 514h1v1h-1zM469 514h3v1h-3zM457 515h2v1h-2zM469 515h1v1h-1zM456 516h2v1h-2zM469 516h2v1h-2zM455 517h2v1h-2zM468 517h1v1h-1zM452 518h3v1h-3zM467 518h2v1h-2zM451 519h1v1h-1zM453 519h1v1h-1zM451 520h1v1h-1zM465 520h2v1h-2zM450 521h3v1h-3zM462 521h3v1h-3zM466 521h1v1h-1zM450 522h1v1h-1zM459 522h1v1h-1zM463 522h1v1h-1zM448 523h2v1h-2zM457 523h1v1h-1zM450 524h1v1h-1zM454 524h2v1h-2zM457 524h1v1h-1zM450 525h1v1h-1zM453 525h4v1h-4zM449 526h1v1h-1zM452 526h2v1h-2zM456 526h1v1h-1zM451 527h1v1h-1zM453 527h1v1h-1zM443 528h1v1h-1zM451 528h3v1h-3zM442 529h3v1h-3zM447 529h2v1h-2zM451 529h1v1h-1zM444 530h1v1h-1zM448 530h1v1h-1zM444 531h2v1h-2zM447 531h2v1h-2zM451 531h2v1h-2zM447 532h1v1h-1zM440 533h2v1h-2zM444 533h4v1h-4zM441 534h1v1h-1zM446 534h1v1h-1zM444 535h2v1h-2z"/>
<path fill="#7c88d8" d="M475 500h1v1h-1zM474 501h3v1h-3zM474 502h4v1h-4zM472 503h2v1h-2zM475 503h2v1h-2zM472 504h3v1h-3zM470 505h6v1h-6zM467 506h4v1h-4zM472 506h2v1h-2zM468 507h6v1h-6zM466 508h5v1h-5zM466 509h1v1h-1zM468 509h3v1h-3zM463 510h1v1h-1zM465 510h7v1h-7zM462 511h2v1h-2zM468 511h4v1h-4zM461 512h1v1h-1zM468 512h3v1h-3zM461 513h1v1h-1zM470 513h1v1h-1zM459 514h2v1h-2zM468 514h1v1h-1zM459 515h3v1h-3zM467 515h2v1h-2zM459 516h1v1h-1zM461 516h2v1h-2zM467 516h2v1h-2zM457 517h8v1h-8zM466 517h2v1h-2zM455 518h7v1h-7zM463 518h3v1h-3zM454 519h1v1h-1zM456 519h2v1h-2zM459 519h1v1h-1zM462 519h3v1h-3zM453 520h6v1h-6zM460 520h2v1h-2zM464 520h1v1h-1zM453 521h9v1h-9zM452 522h7v1h-7zM451 523h6v1h-6zM451 524h2v1h-2zM451 525h2v1h-2z"/>
<path fill="#5a68c8" d="M464 511h3v1h-3zM462 512h2v1h-2zM466 512h2v1h-2zM462 513h1v1h-1zM467 513h1v1h-1zM461 514h2v1h-2zM462 515h2v1h-2zM466 515h1v1h-1zM463 516h4v1h-4z"/>
<path fill="#4050b8" d="M464 512h2v1h-2zM463 513h4v1h-4zM463 514h4v1h-4zM464 515h2v1h-2z"/></g>
<g filter="url(#bl)"><path fill="#c0caf0" d="M491 577h1v1h-1zM489 580h1v1h-1zM487 581h1v1h-1zM491 581h1v1h-1zM480 586h1v1h-1zM478 587h1v1h-1zM488 590h1v1h-1zM471 593h1v1h-1zM470 594h1v1h-1zM469 595h1v1h-1zM479 602h1v1h-1zM457 603h1v1h-1zM478 604h1v1h-1zM476 605h1v1h-1zM460 606h1v1h-1zM458 607h1v1h-1zM458 609h1v1h-1zM459 610h1v1h-1zM456 611h1v1h-1zM458 611h1v1h-1zM460 612h1v1h-1zM454 613h2v1h-2zM460 613h1v1h-1zM464 613h1v1h-1zM455 614h1v1h-1zM458 614h1v1h-1zM462 614h1v1h-1zM464 614h1v1h-1zM456 615h1v1h-1zM461 615h2v1h-2zM448 616h1v1h-1zM461 616h1v1h-1zM452 617h1v1h-1zM455 617h1v1h-1zM457 617h1v1h-1zM459 617h2v1h-2zM463 617h1v1h-1zM448 618h1v1h-1zM451 618h1v1h-1zM454 618h1v1h-1zM458 618h1v1h-1zM450 619h2v1h-2zM453 619h1v1h-1zM445 620h1v1h-1zM455 620h1v1h-1zM459 620h1v1h-1zM453 621h1v1h-1zM458 621h1v1h-1zM441 622h1v1h-1zM447 622h2v1h-2zM453 622h1v1h-1zM459 622h2v1h-2zM444 623h1v1h-1zM449 623h1v1h-1zM450 624h1v1h-1zM437 625h1v1h-1zM451 625h1v1h-1zM454 625h1v1h-1zM443 626h1v1h-1zM447 626h1v1h-1zM441 627h2v1h-2zM444 627h1v1h-1zM446 627h2v1h-2zM439 628h2v1h-2zM445 628h1v1h-1zM450 628h1v1h-1zM446 629h1v1h-1zM451 629h1v1h-1zM440 630h2v1h-2zM445 630h2v1h-2zM441 632h2v1h-2zM446 632h1v1h-1zM445 634h2v1h-2z"/>
<path fill="#8eb0e6" d="M485 584h1v1h-1zM487 584h1v1h-1zM481 585h3v1h-3zM482 586h2v1h-2zM488 586h1v1h-1zM481 587h1v1h-1zM488 587h1v1h-1zM487 588h2v1h-2zM477 589h1v1h-1zM488 589h1v1h-1zM475 591h1v1h-1zM471 594h2v1h-2zM483 596h1v1h-1zM469 598h1v1h-1zM467 599h1v1h-1zM467 600h1v1h-1zM466 601h1v1h-1zM476 603h2v1h-2zM463 604h1v1h-1zM474 605h1v1h-1zM472 607h1v1h-1zM460 608h1v1h-1zM460 609h2v1h-2zM469 609h2v1h-2zM461 610h1v1h-1zM466 610h1v1h-1zM461 611h4v1h-4zM463 612h2v1h-2zM450 621h2v1h-2zM451 622h2v1h-2zM446 623h1v1h-1zM446 624h1v1h-1zM445 625h3v1h-3z"/>
<path fill="#5890d8" d="M485 585h3v1h-3zM484 586h4v1h-4zM483 587h1v1h-1zM485 587h2v1h-2zM480 588h4v1h-4zM485 588h2v1h-2zM478 589h3v1h-3zM484 589h2v1h-2zM477 590h1v1h-1zM485 590h1v1h-1zM476 591h1v1h-1zM484 591h1v1h-1zM474 593h1v1h-1zM483 594h1v1h-1zM472 595h1v1h-1zM471 596h1v1h-1zM482 596h1v1h-1zM481 597h1v1h-1zM470 598h1v1h-1zM480 598h1v1h-1zM468 599h1v1h-1zM479 599h1v1h-1zM478 600h1v1h-1zM467 601h1v1h-1zM477 601h1v1h-1zM476 602h1v1h-1zM465 603h1v1h-1zM464 604h1v1h-1zM463 605h1v1h-1zM473 605h1v1h-1zM463 606h1v1h-1zM472 606h1v1h-1zM463 607h1v1h-1zM462 608h2v1h-2zM469 608h1v1h-1zM462 609h6v1h-6zM462 610h2v1h-2zM465 610h1v1h-1z"/>
<path fill="#3f80cc" d="M481 589h3v1h-3zM478 590h3v1h-3zM483 590h2v1h-2zM477 591h2v1h-2zM483 591h1v1h-1zM476 592h1v1h-1zM483 592h1v1h-1zM475 593h1v1h-1zM483 593h1v1h-1zM474 594h1v1h-1zM482 594h1v1h-1zM473 595h1v1h-1zM481 595h2v1h-2zM472 596h1v1h-1zM480 596h2v1h-2zM471 597h1v1h-1zM480 597h1v1h-1zM479 598h1v1h-1zM469 599h1v1h-1zM478 599h1v1h-1zM468 601h1v1h-1zM466 602h1v1h-1zM474 603h1v1h-1zM473 604h1v1h-1zM464 606h1v1h-1zM471 606h1v1h-1zM464 607h1v1h-1zM470 607h1v1h-1zM464 608h2v1h-2zM467 608h2v1h-2z"/>
<path fill="#36a0c4" d="M481 590h2v1h-2zM480 591h3v1h-3zM477 592h2v1h-2zM482 592h1v1h-1zM476 593h1v1h-1zM482 593h1v1h-1zM475 594h1v1h-1zM480 594h2v1h-2zM480 595h1v1h-1zM473 596h1v1h-1zM479 596h1v1h-1zM472 597h1v1h-1zM479 597h1v1h-1zM478 598h1v1h-1zM470 599h1v1h-1zM477 599h1v1h-1zM469 600h1v1h-1zM476 601h1v1h-1zM467 602h1v1h-1zM474 602h1v1h-1zM466 603h1v1h-1zM473 603h1v1h-1zM465 605h1v1h-1zM470 606h1v1h-1zM465 607h1v1h-1zM469 607h1v1h-1z"/>
<path fill="#38a884" d="M479 592h3v1h-3zM477 593h5v1h-5zM476 594h1v1h-1zM479 594h1v1h-1zM475 595h1v1h-1zM479 595h1v1h-1zM474 596h1v1h-1zM473 597h1v1h-1zM478 597h1v1h-1zM472 598h1v1h-1zM477 598h1v1h-1zM471 599h1v1h-1zM470 600h1v1h-1zM476 600h1v1h-1zM469 601h1v1h-1zM475 601h1v1h-1zM468 602h1v1h-1zM467 603h1v1h-1zM466 604h1v1h-1zM472 604h1v1h-1zM471 605h1v1h-1zM465 606h1v1h-1zM469 606h1v1h-1zM466 607h1v1h-1zM468 607h1v1h-1z"/>
<path fill="#56b04a" d="M477 594h2v1h-2zM476 595h3v1h-3zM475 596h4v1h-4zM474 597h4v1h-4zM473 598h4v1h-4zM472 599h5v1h-5zM471 600h5v1h-5zM470 601h5v1h-5zM469 602h5v1h-5zM468 603h5v1h-5zM467 604h5v1h-5zM466 605h5v1h-5zM466 606h3v1h-3zM467 607h1v1h-1z"/></g>
<rect x="436" y="366.2" width="80.8" height="80.6" fill="none" stroke="#a8a8a8" stroke-width="1" />
<text x="434.0" y="448.2" font-size="4.2" text-anchor="end" fill="#555">10<tspan font-size="2.8" dy="-1.5">0</tspan></text>
<text x="436.0" y="453.2" font-size="4.2" text-anchor="middle" fill="#555">10<tspan font-size="2.8" dy="-1.5">0</tspan></text>
<line x1="434.5" y1="446.8" x2="436" y2="446.8" stroke="#555" stroke-width="0.8" />
<line x1="436" y1="446.8" x2="436" y2="448.3" stroke="#555" stroke-width="0.8" />
<text x="434.0" y="428.0" font-size="4.2" text-anchor="end" fill="#555">10<tspan font-size="2.8" dy="-1.5">1</tspan></text>
<text x="456.2" y="453.2" font-size="4.2" text-anchor="middle" fill="#555">10<tspan font-size="2.8" dy="-1.5">1</tspan></text>
<line x1="434.5" y1="426.65" x2="436" y2="426.65" stroke="#555" stroke-width="0.8" />
<line x1="456.2" y1="446.8" x2="456.2" y2="448.3" stroke="#555" stroke-width="0.8" />
<text x="434.0" y="407.9" font-size="4.2" text-anchor="end" fill="#555">10<tspan font-size="2.8" dy="-1.5">2</tspan></text>
<text x="476.4" y="453.2" font-size="4.2" text-anchor="middle" fill="#555">10<tspan font-size="2.8" dy="-1.5">2</tspan></text>
<line x1="434.5" y1="406.5" x2="436" y2="406.5" stroke="#555" stroke-width="0.8" />
<line x1="476.4" y1="446.8" x2="476.4" y2="448.3" stroke="#555" stroke-width="0.8" />
<text x="434.0" y="387.8" font-size="4.2" text-anchor="end" fill="#555">10<tspan font-size="2.8" dy="-1.5">3</tspan></text>
<text x="496.6" y="453.2" font-size="4.2" text-anchor="middle" fill="#555">10<tspan font-size="2.8" dy="-1.5">3</tspan></text>
<line x1="434.5" y1="386.35" x2="436" y2="386.35" stroke="#555" stroke-width="0.8" />
<line x1="496.6" y1="446.8" x2="496.6" y2="448.3" stroke="#555" stroke-width="0.8" />
<text x="434.0" y="367.6" font-size="4.2" text-anchor="end" fill="#555">10<tspan font-size="2.8" dy="-1.5">4</tspan></text>
<text x="516.8" y="453.2" font-size="4.2" text-anchor="middle" fill="#555">10<tspan font-size="2.8" dy="-1.5">4</tspan></text>
<line x1="434.5" y1="366.2" x2="436" y2="366.2" stroke="#555" stroke-width="0.8" />
<line x1="516.8" y1="446.8" x2="516.8" y2="448.3" stroke="#555" stroke-width="0.8" />
<line x1="436" y1="366.2" x2="436" y2="447.3" stroke="#4a4a4a" stroke-width="1.2" />
<line x1="435.5" y1="446.8" x2="516.8" y2="446.8" stroke="#4a4a4a" stroke-width="1.2" />
<line x1="467" y1="366.2" x2="467" y2="446.8" stroke="#707070" stroke-width="1" />
<line x1="436" y1="416.6" x2="516.8" y2="416.6" stroke="#707070" stroke-width="1" />
<rect x="436" y="464.4" width="80.8" height="80.4" fill="none" stroke="#a8a8a8" stroke-width="1" />
<text x="434.0" y="546.2" font-size="4.2" text-anchor="end" fill="#555">10<tspan font-size="2.8" dy="-1.5">0</tspan></text>
<text x="436.0" y="551.2" font-size="4.2" text-anchor="middle" fill="#555">10<tspan font-size="2.8" dy="-1.5">0</tspan></text>
<line x1="434.5" y1="544.8" x2="436" y2="544.8" stroke="#555" stroke-width="0.8" />
<line x1="436" y1="544.8" x2="436" y2="546.3" stroke="#555" stroke-width="0.8" />
<text x="434.0" y="526.1" font-size="4.2" text-anchor="end" fill="#555">10<tspan font-size="2.8" dy="-1.5">1</tspan></text>
<text x="456.2" y="551.2" font-size="4.2" text-anchor="middle" fill="#555">10<tspan font-size="2.8" dy="-1.5">1</tspan></text>
<line x1="434.5" y1="524.7" x2="436" y2="524.7" stroke="#555" stroke-width="0.8" />
<line x1="456.2" y1="544.8" x2="456.2" y2="546.3" stroke="#555" stroke-width="0.8" />
<text x="434.0" y="506.0" font-size="4.2" text-anchor="end" fill="#555">10<tspan font-size="2.8" dy="-1.5">2</tspan></text>
<text x="476.4" y="551.2" font-size="4.2" text-anchor="middle" fill="#555">10<tspan font-size="2.8" dy="-1.5">2</tspan></text>
<line x1="434.5" y1="504.6" x2="436" y2="504.6" stroke="#555" stroke-width="0.8" />
<line x1="476.4" y1="544.8" x2="476.4" y2="546.3" stroke="#555" stroke-width="0.8" />
<text x="434.0" y="485.9" font-size="4.2" text-anchor="end" fill="#555">10<tspan font-size="2.8" dy="-1.5">3</tspan></text>
<text x="496.6" y="551.2" font-size="4.2" text-anchor="middle" fill="#555">10<tspan font-size="2.8" dy="-1.5">3</tspan></text>
<line x1="434.5" y1="484.5" x2="436" y2="484.5" stroke="#555" stroke-width="0.8" />
<line x1="496.6" y1="544.8" x2="496.6" y2="546.3" stroke="#555" stroke-width="0.8" />
<text x="434.0" y="465.8" font-size="4.2" text-anchor="end" fill="#555">10<tspan font-size="2.8" dy="-1.5">4</tspan></text>
<text x="516.8" y="551.2" font-size="4.2" text-anchor="middle" fill="#555">10<tspan font-size="2.8" dy="-1.5">4</tspan></text>
<line x1="434.5" y1="464.4" x2="436" y2="464.4" stroke="#555" stroke-width="0.8" />
<line x1="516.8" y1="544.8" x2="516.8" y2="546.3" stroke="#555" stroke-width="0.8" />
<line x1="436" y1="464.4" x2="436" y2="545.3" stroke="#4a4a4a" stroke-width="1.2" />
<line x1="435.5" y1="544.8" x2="516.8" y2="544.8" stroke="#4a4a4a" stroke-width="1.2" />
<line x1="467" y1="464.4" x2="467" y2="544.8" stroke="#707070" stroke-width="1" />
<line x1="436" y1="514.2" x2="516.8" y2="514.2" stroke="#707070" stroke-width="1" />
<rect x="436" y="556.2" width="80.8" height="80.5" fill="none" stroke="#a8a8a8" stroke-width="1" />
<text x="434.0" y="638.1" font-size="4.2" text-anchor="end" fill="#555">10<tspan font-size="2.8" dy="-1.5">0</tspan></text>
<text x="436.0" y="643.1" font-size="4.2" text-anchor="middle" fill="#555">10<tspan font-size="2.8" dy="-1.5">0</tspan></text>
<line x1="434.5" y1="636.7" x2="436" y2="636.7" stroke="#555" stroke-width="0.8" />
<line x1="436" y1="636.7" x2="436" y2="638.2" stroke="#555" stroke-width="0.8" />
<text x="434.0" y="618.0" font-size="4.2" text-anchor="end" fill="#555">10<tspan font-size="2.8" dy="-1.5">1</tspan></text>
<text x="456.2" y="643.1" font-size="4.2" text-anchor="middle" fill="#555">10<tspan font-size="2.8" dy="-1.5">1</tspan></text>
<line x1="434.5" y1="616.575" x2="436" y2="616.575" stroke="#555" stroke-width="0.8" />
<line x1="456.2" y1="636.7" x2="456.2" y2="638.2" stroke="#555" stroke-width="0.8" />
<text x="434.0" y="597.9" font-size="4.2" text-anchor="end" fill="#555">10<tspan font-size="2.8" dy="-1.5">2</tspan></text>
<text x="476.4" y="643.1" font-size="4.2" text-anchor="middle" fill="#555">10<tspan font-size="2.8" dy="-1.5">2</tspan></text>
<line x1="434.5" y1="596.45" x2="436" y2="596.45" stroke="#555" stroke-width="0.8" />
<line x1="476.4" y1="636.7" x2="476.4" y2="638.2" stroke="#555" stroke-width="0.8" />
<text x="434.0" y="577.7" font-size="4.2" text-anchor="end" fill="#555">10<tspan font-size="2.8" dy="-1.5">3</tspan></text>
<text x="496.6" y="643.1" font-size="4.2" text-anchor="middle" fill="#555">10<tspan font-size="2.8" dy="-1.5">3</tspan></text>
<line x1="434.5" y1="576.325" x2="436" y2="576.325" stroke="#555" stroke-width="0.8" />
<line x1="496.6" y1="636.7" x2="496.6" y2="638.2" stroke="#555" stroke-width="0.8" />
<text x="434.0" y="557.6" font-size="4.2" text-anchor="end" fill="#555">10<tspan font-size="2.8" dy="-1.5">4</tspan></text>
<text x="516.8" y="643.1" font-size="4.2" text-anchor="middle" fill="#555">10<tspan font-size="2.8" dy="-1.5">4</tspan></text>
<line x1="434.5" y1="556.2" x2="436" y2="556.2" stroke="#555" stroke-width="0.8" />
<line x1="516.8" y1="636.7" x2="516.8" y2="638.2" stroke="#555" stroke-width="0.8" />
<line x1="436" y1="556.2" x2="436" y2="637.2" stroke="#4a4a4a" stroke-width="1.2" />
<line x1="435.5" y1="636.7" x2="516.8" y2="636.7" stroke="#4a4a4a" stroke-width="1.2" />
<line x1="467" y1="556.2" x2="467" y2="636.7" stroke="#707070" stroke-width="1" />
<line x1="436" y1="606.7" x2="516.8" y2="606.7" stroke="#707070" stroke-width="1" />
<text x="510.6" y="377.4" font-size="11" font-weight="bold" text-anchor="end" >2</text>
<text x="513.2" y="475.5" font-size="11" font-weight="bold" text-anchor="end" >36</text>
<text x="513.2" y="567.8" font-size="11" font-weight="bold" text-anchor="end" >85</text>
<text x="425.1" y="504.7" font-size="11.6" stroke="#000" stroke-width="0.4" text-anchor="middle" transform="rotate(-90 425.1 504.7)" >CD61</text>
<text x="477" y="657.8" font-size="11.6" stroke="#000" stroke-width="0.4" text-anchor="middle" >CD41</text>
</svg>
</body></html>
